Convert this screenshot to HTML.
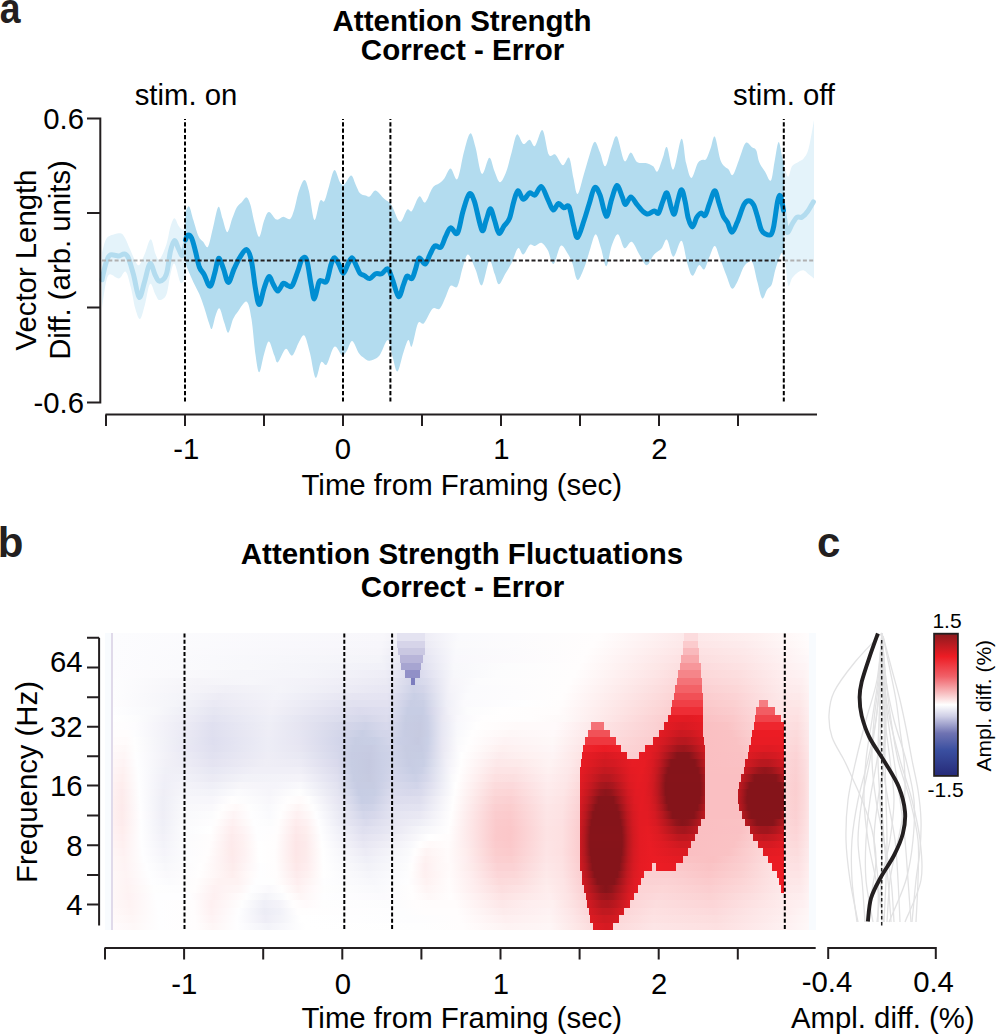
<!DOCTYPE html><html><head><meta charset="utf-8"><style>html,body{margin:0;padding:0;background:#fff;}svg{display:block;}text{font-family:"Liberation Sans", sans-serif;fill:#000;}</style></head><body>
<svg width="996" height="1035" viewBox="0 0 996 1035">
<path d="M102.0 252.8C102.6 250.8 104.2 243.4 105.4 240.6C106.7 237.8 107.0 237.1 109.5 235.9C112.0 234.7 117.7 232.9 120.3 233.2C122.9 233.5 123.4 235.3 125.0 237.9C126.6 240.5 128.1 244.9 129.8 248.7C131.5 252.5 133.6 258.2 135.2 260.9C136.8 263.6 137.6 266.1 139.2 265.0C140.8 263.9 142.8 258.3 144.7 254.0C146.6 249.7 148.9 239.2 150.7 239.2C152.5 239.2 154.0 250.6 155.5 254.0C157.0 257.4 157.7 261.1 159.5 259.5C161.3 257.9 164.5 250.1 166.3 244.7C168.1 239.3 169.1 231.4 170.4 227.0C171.8 222.6 173.1 218.5 174.4 218.3C175.8 218.1 177.2 223.8 178.5 225.7C179.8 227.6 181.4 229.6 182.5 229.8C183.6 230.0 184.8 227.5 185.3 227.0L185.3 277.1C184.8 278.0 183.4 281.8 182.5 282.5C181.6 283.2 181.2 284.3 179.8 281.2C178.5 278.1 176.0 264.7 174.4 263.6C172.8 262.5 171.8 269.2 170.4 274.4C169.1 279.6 168.1 290.4 166.3 294.7C164.5 299.0 161.3 300.1 159.5 300.1C157.7 300.1 157.1 297.4 155.5 294.7C153.9 292.0 151.8 282.1 150.0 283.9C148.2 285.7 146.4 299.6 144.7 305.5C143.0 311.4 141.6 318.5 140.0 319.0C138.4 319.5 136.7 313.5 135.2 308.3C133.7 303.1 132.6 294.1 131.0 288.0C129.4 281.9 127.7 273.3 125.7 271.7C123.7 270.1 121.7 278.1 119.0 278.5C116.3 278.9 111.8 273.3 109.5 274.4C107.2 275.5 106.7 279.5 105.4 285.2C104.2 290.9 102.6 304.4 102.0 308.3Z" fill="#e4f3fa"/>
<path d="M784.0 165.0C784.2 165.8 784.7 168.0 785.4 169.9C786.1 171.8 787.2 177.3 788.3 176.7C789.4 176.0 790.6 168.4 792.2 166.0C793.8 163.6 796.1 163.5 798.0 162.2C799.9 160.9 802.0 160.6 803.8 158.3C805.6 156.0 807.0 154.4 808.6 148.6C810.2 142.8 812.5 128.3 813.4 123.5C814.3 118.7 813.9 120.6 814.0 120.0L814.0 279.0C813.9 278.9 814.3 278.9 813.4 278.1C812.5 277.3 810.2 275.6 808.6 274.3C807.0 273.0 805.6 270.7 803.8 270.4C802.0 270.1 799.9 271.0 798.0 272.3C796.1 273.6 793.8 275.9 792.2 278.1C790.6 280.4 789.4 288.1 788.3 285.8C787.2 283.6 786.1 269.2 785.4 264.6C784.7 260.0 784.2 259.1 784.0 258.0Z" fill="#e4f3fa"/>
<path d="M185.3 213.5C185.6 212.8 186.1 210.1 186.8 209.0C187.5 207.9 188.4 205.1 189.5 207.0C190.6 208.9 192.0 215.8 193.5 220.6C195.0 225.4 196.8 232.5 198.4 236.0C200.0 239.5 201.6 240.0 203.2 241.8C204.8 243.6 206.4 248.9 208.0 246.7C209.6 244.4 211.2 234.9 212.9 228.3C214.6 221.7 216.7 208.6 218.3 207.0C219.9 205.4 221.0 214.4 222.5 218.6C224.0 222.8 225.7 232.2 227.3 232.2C228.9 232.2 230.6 222.8 232.2 218.6C233.8 214.4 235.4 209.7 237.0 207.0C238.6 204.3 240.2 203.8 241.8 202.2C243.4 200.6 245.2 196.9 246.7 197.4C248.1 197.9 249.2 200.9 250.5 205.1C251.8 209.3 253.0 217.2 254.4 222.5C255.8 227.8 257.6 237.3 259.2 237.0C260.8 236.7 262.5 224.8 264.1 220.6C265.7 216.4 266.8 212.1 268.9 211.9C271.0 211.7 274.2 218.8 276.6 219.6C279.0 220.4 281.1 216.8 283.3 216.7C285.5 216.6 288.1 220.2 290.0 218.9C291.9 217.6 292.9 213.5 294.4 208.9C295.9 204.3 297.2 195.9 298.9 191.1C300.6 186.3 302.7 180.0 304.4 180.0C306.1 180.0 307.2 184.4 308.9 191.1C310.6 197.8 312.5 218.3 314.4 220.0C316.2 221.7 318.3 204.2 320.0 201.1C321.7 197.9 322.9 203.5 324.4 201.1C325.9 198.7 327.2 191.9 328.9 186.7C330.6 181.5 332.5 170.8 334.4 170.0C336.2 169.2 338.3 179.8 340.0 182.2C341.7 184.6 342.5 185.5 344.4 184.4C346.2 183.3 349.2 175.6 351.1 175.6C353.0 175.6 354.1 181.4 355.6 184.4C357.1 187.4 358.3 191.4 360.0 193.3C361.7 195.2 364.0 195.1 365.6 195.6C367.2 196.1 368.0 197.3 369.7 196.4C371.4 195.5 373.3 190.0 375.7 190.4C378.1 190.8 381.6 196.4 384.2 198.8C386.8 201.2 388.8 201.1 391.4 204.9C394.0 208.7 397.3 221.0 399.9 221.8C402.5 222.6 405.1 211.5 407.1 209.7C409.1 207.9 409.9 213.1 411.9 210.9C413.9 208.7 417.0 197.8 419.2 196.4C421.4 195.0 423.0 203.9 425.2 202.5C427.4 201.1 430.1 191.2 432.5 188.0C434.9 184.8 437.7 184.7 439.7 183.1C441.7 181.5 442.7 180.7 444.5 178.3C446.3 175.9 448.5 168.5 450.6 168.6C452.8 168.7 455.2 181.8 457.4 179.1C459.6 176.4 461.7 160.1 463.8 152.5C465.9 144.9 468.2 134.3 470.2 133.4C472.1 132.5 473.6 140.5 475.5 147.2C477.4 153.9 479.6 172.0 481.9 173.8C484.2 175.6 487.2 158.2 489.3 157.8C491.4 157.4 492.8 167.5 494.6 171.6C496.4 175.7 498.1 182.3 500.0 182.3C501.9 182.3 504.4 176.6 506.3 171.6C508.2 166.6 509.8 158.7 511.6 152.5C513.4 146.3 515.0 135.8 516.9 134.4C518.8 133.0 521.2 143.1 523.3 144.0C525.4 144.9 527.8 139.5 529.7 139.8C531.7 140.2 532.9 147.7 535.0 146.1C537.1 144.5 540.2 128.8 542.5 130.2C544.8 131.6 546.7 150.5 548.8 154.6C550.9 158.7 553.0 152.8 555.3 154.6C557.6 156.4 560.5 164.8 562.8 165.3C565.1 165.8 567.3 155.7 569.1 157.8C570.9 159.9 572.0 172.0 573.4 178.0C574.8 184.0 575.8 194.7 577.6 194.0C579.4 193.3 582.0 180.2 584.0 173.8C586.0 167.4 587.5 161.0 589.3 155.7C591.1 150.4 592.8 142.4 594.6 141.9C596.4 141.4 598.2 148.4 600.0 152.5C601.8 156.6 603.4 167.2 605.3 166.3C607.2 165.4 609.7 152.1 611.6 147.2C613.5 142.2 614.8 134.3 616.9 136.6C619.0 138.9 622.1 158.3 624.4 161.0C626.7 163.7 628.7 152.3 630.8 152.5C632.9 152.7 634.6 160.3 637.1 162.1C639.6 163.9 642.9 162.4 645.6 163.1C648.3 163.8 651.1 164.9 653.1 166.3C655.1 167.7 655.8 173.0 657.4 171.6C659.0 170.2 661.2 161.9 662.8 157.8C664.4 153.7 665.2 145.2 667.0 147.2C668.8 149.1 671.0 170.9 673.4 169.5C675.8 168.1 679.4 139.8 681.5 138.7C683.6 137.6 684.5 156.5 686.1 163.1C687.8 169.7 689.5 178.0 691.4 178.0C693.3 178.0 696.0 166.1 697.8 163.1C699.6 160.1 700.7 160.7 702.1 160.0C703.5 159.3 704.9 160.8 706.3 158.9C707.7 157.0 709.2 152.0 710.6 148.3C712.0 144.6 713.2 134.8 714.8 136.6C716.4 138.4 718.5 153.9 720.1 158.9C721.7 163.9 723.0 164.5 724.4 166.3C725.8 168.1 727.2 168.1 728.6 169.5C730.0 170.9 731.1 176.6 732.9 174.8C734.7 173.0 737.2 164.2 739.3 158.9C741.4 153.6 743.5 144.9 745.6 142.9C747.7 140.9 750.2 145.9 752.0 147.2C753.8 148.4 755.1 147.9 756.3 150.4C757.5 152.9 757.8 158.6 759.3 162.2C760.8 165.8 763.2 168.8 765.1 171.8C767.0 174.9 769.3 182.4 770.9 180.5C772.5 178.6 773.5 166.6 774.8 160.2C776.1 153.8 777.4 142.5 778.6 141.9C779.8 141.3 781.2 152.6 782.1 156.4C783.0 160.2 783.7 163.6 784.0 165.0L784.0 258.0C783.6 257.2 782.9 251.2 781.5 253.0C780.1 254.8 777.3 263.4 775.7 268.5C774.1 273.6 773.3 280.4 771.9 283.9C770.5 287.4 768.7 287.3 767.1 289.7C765.5 292.1 763.8 299.7 762.2 298.4C760.6 297.1 759.0 287.9 757.4 282.0C755.8 276.1 754.2 265.9 752.6 262.7C751.0 259.5 749.2 261.9 747.7 262.7C746.2 263.5 745.3 264.1 743.5 267.3C741.7 270.6 739.1 278.7 737.1 282.2C735.1 285.7 733.6 289.6 731.8 288.5C730.0 287.4 728.5 280.8 726.5 275.8C724.5 270.9 722.1 263.8 720.1 258.8C718.1 253.8 716.6 246.3 714.8 246.0C713.0 245.7 711.3 252.8 709.5 256.7C707.7 260.6 706.0 268.0 704.2 269.4C702.4 270.8 700.9 264.1 698.9 265.2C696.9 266.3 694.5 276.2 692.5 275.8C690.5 275.4 689.0 268.9 687.2 263.0C685.4 257.1 683.8 241.8 681.5 240.7C679.2 239.6 675.8 256.9 673.4 256.7C671.0 256.5 669.0 241.1 667.0 239.7C665.0 238.3 663.9 245.7 661.7 248.2C659.6 250.7 656.6 251.7 654.1 254.5C651.6 257.3 649.2 265.2 646.7 265.2C644.2 265.2 641.8 258.4 639.3 254.5C636.8 250.6 634.3 242.9 631.8 241.8C629.3 240.8 626.7 249.4 624.4 248.2C622.1 246.9 620.1 234.7 618.0 234.3C615.9 233.9 613.6 240.7 611.6 246.0C609.6 251.3 608.1 265.8 606.3 266.2C604.5 266.6 602.8 253.5 601.0 248.2C599.2 242.9 597.5 234.3 595.7 234.3C593.9 234.3 592.2 243.0 590.4 248.2C588.6 253.3 587.2 259.9 585.1 265.2C583.0 270.5 579.7 280.4 577.6 280.0C575.5 279.6 574.1 267.6 572.3 263.0C570.5 258.4 569.0 255.2 567.0 252.4C565.0 249.6 562.9 244.1 560.6 246.0C558.4 247.9 555.6 263.3 553.5 264.0C551.4 264.7 549.8 253.8 547.8 250.3C545.8 246.8 543.5 243.5 541.4 242.8C539.3 242.1 537.0 245.6 535.0 246.0C533.0 246.4 531.7 243.6 529.7 245.0C527.8 246.4 525.2 254.0 523.3 254.5C521.3 255.0 520.0 246.8 518.0 248.2C516.0 249.6 513.7 258.8 511.6 263.0C509.5 267.2 507.4 270.1 505.3 273.7C503.2 277.2 500.7 284.3 498.9 284.3C497.1 284.3 496.2 277.6 494.6 273.7C493.0 269.8 491.4 259.0 489.3 260.9C487.2 262.8 484.2 283.9 481.9 285.3C479.6 286.7 477.8 274.5 475.5 269.4C473.2 264.3 470.2 254.8 468.1 254.5C466.0 254.2 464.6 262.0 462.8 267.3C461.0 272.6 459.4 283.3 457.4 286.4C455.4 289.5 452.6 284.1 450.6 285.8C448.7 287.5 447.5 292.9 445.7 296.7C443.9 300.5 441.9 306.7 439.7 308.7C437.5 310.7 435.1 306.3 432.5 308.7C429.9 311.1 426.4 320.8 424.0 323.2C421.6 325.6 420.0 319.4 418.0 323.2C416.0 327.0 413.5 343.4 411.9 346.2C410.3 349.0 409.7 339.1 408.3 340.1C406.9 341.1 405.3 347.0 403.5 352.2C401.7 357.4 399.2 370.7 397.4 371.5C395.6 372.3 394.2 362.3 392.6 357.1C391.0 351.9 390.0 340.3 387.8 340.1C385.6 339.9 382.3 352.4 379.3 355.8C376.3 359.2 372.2 360.3 369.7 360.7C367.1 361.1 365.8 359.2 364.0 358.0C362.2 356.8 360.9 356.1 358.9 353.3C356.9 350.5 354.2 341.5 352.2 341.1C350.2 340.7 348.4 348.7 346.7 351.1C345.0 353.5 344.2 356.3 342.2 355.6C340.1 354.9 337.0 345.2 334.4 346.7C331.8 348.2 328.9 361.8 326.7 364.4C324.5 367.0 323.0 360.0 321.1 362.2C319.2 364.4 317.5 379.3 315.6 377.8C313.8 376.3 311.9 360.3 310.0 353.3C308.1 346.3 306.2 337.5 304.4 335.6C302.5 333.8 300.9 338.9 298.9 342.2C296.9 345.5 294.4 354.5 292.2 355.6C290.0 356.7 288.0 347.8 285.6 348.9C283.2 350.0 279.7 361.1 277.8 362.2C275.9 363.3 275.9 359.1 274.4 355.6C272.9 352.1 270.6 341.7 268.9 341.4C267.2 341.1 265.7 348.8 264.1 353.9C262.5 359.0 260.6 372.3 259.2 372.3C257.8 372.3 256.7 362.8 255.4 353.9C254.1 345.0 252.9 327.8 251.5 319.1C250.1 310.4 248.9 303.0 246.7 301.7C244.4 300.4 240.3 308.5 238.0 311.4C235.7 314.3 234.7 315.6 233.1 319.1C231.5 322.7 229.8 332.1 228.3 332.7C226.9 333.3 225.9 327.0 224.4 323.0C222.9 319.0 221.1 309.8 219.6 308.5C218.1 307.2 217.0 311.9 215.7 315.3C214.4 318.7 213.0 327.5 211.9 328.8C210.8 330.1 210.3 326.6 209.0 323.0C207.7 319.4 205.8 312.3 204.2 307.5C202.6 302.7 201.1 298.2 199.3 294.0C197.5 289.8 195.6 286.9 193.5 282.4C191.4 277.9 188.2 270.6 186.8 267.0C185.4 263.4 185.6 262.0 185.3 261.0Z" fill="#b3dcef"/>
<path d="M102.0 279.8C102.6 277.3 104.2 269.1 105.4 265.0C106.7 260.9 107.7 257.1 109.5 255.5C111.3 253.9 114.6 255.4 116.2 255.5C117.8 255.6 117.6 256.2 119.0 256.0C120.4 255.8 122.8 253.7 124.4 254.0C126.0 254.3 126.8 254.4 128.4 258.0C130.0 261.6 132.0 269.2 133.8 275.8C135.6 282.4 137.4 296.5 139.2 297.4C141.0 298.3 142.9 286.8 144.7 281.2C146.5 275.6 148.2 264.5 150.0 263.6C151.8 262.7 153.9 272.9 155.5 275.8C157.1 278.7 157.7 281.4 159.5 281.2C161.3 281.0 164.5 279.4 166.3 274.4C168.1 269.4 169.1 257.0 170.4 251.4C171.8 245.8 173.1 241.1 174.4 240.6C175.8 240.1 177.2 246.2 178.5 248.7C179.8 251.2 181.4 256.2 182.5 255.5C183.6 254.8 184.8 246.5 185.3 244.7" fill="none" stroke="#b3dcef" stroke-width="5" stroke-linejoin="round" stroke-linecap="round"/>
<path d="M783.5 210.5C784.0 213.7 785.6 226.3 786.4 229.8C787.2 233.3 787.3 232.7 788.3 231.7C789.3 230.7 790.8 226.4 792.2 224.0C793.7 221.6 795.4 218.3 797.0 217.2C798.6 216.1 800.0 218.2 801.8 217.2C803.6 216.2 805.7 214.0 807.6 211.4C809.5 208.8 812.4 203.4 813.4 201.8" fill="none" stroke="#b3dcef" stroke-width="5" stroke-linejoin="round" stroke-linecap="round"/>
<path d="M185.5 240.0C185.9 239.2 186.7 235.4 187.7 235.1C188.7 234.8 190.3 235.3 191.6 238.0C192.9 240.7 194.2 246.7 195.5 251.5C196.8 256.3 197.9 263.1 199.3 267.0C200.8 270.9 202.4 271.5 204.2 274.7C206.0 277.9 208.2 286.6 210.0 286.3C211.8 286.0 213.4 277.5 214.8 272.8C216.2 268.1 217.2 259.0 218.6 258.3C220.0 257.6 221.9 264.9 223.5 268.9C225.1 272.9 226.5 282.4 228.3 282.4C230.1 282.4 232.2 273.1 234.1 268.9C236.0 264.7 237.8 260.5 239.9 257.3C242.0 254.1 244.8 248.9 246.7 249.6C248.6 250.2 250.1 254.8 251.5 261.2C252.9 267.6 254.1 281.0 255.4 288.2C256.7 295.4 257.8 304.6 259.2 304.6C260.6 304.6 262.5 292.9 264.1 288.2C265.7 283.5 267.4 277.2 268.9 276.6C270.4 276.0 271.8 282.0 273.3 284.4C274.8 286.8 276.1 291.3 277.8 291.1C279.5 290.9 281.6 284.2 283.3 283.3C285.0 282.4 286.3 285.2 287.8 285.6C289.3 286.0 290.5 288.0 292.2 285.6C293.9 283.2 296.1 275.6 297.8 271.1C299.5 266.7 300.7 260.8 302.2 258.9C303.7 257.0 305.2 255.8 306.7 260.0C308.2 264.2 309.8 277.9 311.1 284.4C312.4 290.9 313.1 299.3 314.4 298.9C315.7 298.5 317.6 285.2 318.9 282.2C320.2 279.2 320.9 281.3 322.2 281.1C323.5 280.9 325.2 283.9 326.7 281.1C328.2 278.3 329.8 268.3 331.1 264.4C332.4 260.5 333.1 257.8 334.4 257.8C335.7 257.8 337.4 261.8 338.9 264.4C340.4 267.0 341.8 273.3 343.3 273.3C344.8 273.3 346.3 267.0 347.8 264.4C349.3 261.8 350.7 257.4 352.2 257.8C353.7 258.2 355.4 264.1 356.7 266.7C358.0 269.3 358.7 271.8 360.0 273.3C361.3 274.8 362.8 274.7 364.4 275.6C366.0 276.5 367.8 278.9 369.7 278.6C371.6 278.3 373.7 274.5 375.7 273.7C377.7 272.9 379.7 274.5 381.7 273.7C383.7 272.9 386.0 267.9 387.8 268.9C389.6 269.9 390.8 275.2 392.6 279.8C394.4 284.4 396.8 295.9 398.6 296.7C400.4 297.5 402.1 288.0 403.5 284.6C404.9 281.2 405.7 277.1 407.1 276.1C408.5 275.1 410.5 279.8 411.9 278.6C413.3 277.4 414.4 272.3 415.6 268.9C416.8 265.5 417.6 258.8 419.2 258.0C420.8 257.2 423.4 264.7 425.2 264.1C427.0 263.5 428.4 257.4 430.0 254.4C431.6 251.4 433.1 247.1 434.9 245.9C436.7 244.7 439.1 248.7 440.9 247.1C442.7 245.5 444.1 239.5 445.7 236.3C447.3 233.1 448.7 228.3 450.6 227.8C452.6 227.3 455.4 235.9 457.4 233.3C459.4 230.7 460.9 218.6 462.8 212.0C464.8 205.4 467.2 195.8 469.1 194.0C471.0 192.2 472.3 195.4 474.4 201.4C476.5 207.4 479.9 226.9 481.9 230.1C483.8 233.3 484.7 224.1 486.1 220.5C487.5 216.9 489.0 208.8 490.4 208.8C491.8 208.8 493.2 216.4 494.6 220.5C496.0 224.6 497.3 232.4 498.9 233.3C500.5 234.2 502.4 228.3 504.2 225.8C506.0 223.3 507.9 222.5 509.5 218.4C511.1 214.3 512.4 206.0 513.8 201.4C515.2 196.8 516.4 191.2 518.0 190.8C519.6 190.5 521.3 199.0 523.3 199.3C525.2 199.7 527.8 193.6 529.7 192.9C531.7 192.2 533.0 196.1 535.0 195.0C537.0 193.9 539.3 185.8 541.4 186.5C543.5 187.2 545.8 195.4 547.8 199.3C549.8 203.2 551.3 209.2 553.1 209.9C554.9 210.6 556.7 203.8 558.5 203.5C560.3 203.2 562.0 207.3 563.8 207.8C565.6 208.3 567.5 203.9 569.1 206.7C570.7 209.5 572.0 219.7 573.4 224.8C574.8 229.9 575.8 238.2 577.6 237.5C579.4 236.8 582.0 226.2 584.0 220.5C586.0 214.8 587.5 209.0 589.3 203.5C591.1 198.0 592.8 189.0 594.6 187.6C596.4 186.2 598.0 190.2 600.0 195.0C602.0 199.8 604.4 215.6 606.3 216.3C608.2 217.0 609.8 204.4 611.6 199.3C613.4 194.2 615.1 185.9 616.9 185.5C618.7 185.1 620.9 193.9 622.3 197.1C623.7 200.3 624.1 204.6 625.5 204.6C626.9 204.6 628.9 197.1 630.8 197.1C632.7 197.1 635.1 202.3 637.1 204.6C639.1 206.9 640.7 209.4 642.5 211.0C644.3 212.6 645.8 214.1 647.8 214.1C649.8 214.1 652.5 211.2 654.3 211.0C656.1 210.8 657.1 214.7 658.5 213.1C659.9 211.5 661.4 204.8 662.8 201.4C664.2 198.0 665.6 191.8 667.0 192.9C668.4 194.0 670.1 204.3 671.3 207.8C672.5 211.3 673.3 215.2 674.4 214.1C675.5 213.0 676.4 205.5 677.6 201.4C678.8 197.3 680.2 189.7 681.5 189.7C682.8 189.7 684.0 196.6 685.1 201.4C686.2 206.2 687.1 214.2 688.3 218.4C689.5 222.7 691.1 227.1 692.5 226.9C693.9 226.7 695.4 219.6 696.8 217.3C698.2 215.0 699.6 213.4 701.0 213.1C702.4 212.8 703.9 216.8 705.3 215.2C706.7 213.6 707.9 207.6 709.5 203.5C711.1 199.4 713.2 190.8 714.8 190.8C716.4 190.8 717.7 199.2 719.1 203.5C720.5 207.8 721.9 213.1 723.3 216.3C724.7 219.5 726.2 219.9 727.6 222.6C729.0 225.2 730.2 232.2 731.8 232.2C733.4 232.2 735.1 227.2 737.1 222.6C739.1 218.0 742.0 208.3 743.9 204.7C745.8 201.1 747.1 200.8 748.7 200.8C750.3 200.8 752.0 202.1 753.5 204.7C755.0 207.3 756.1 212.1 757.4 216.3C758.7 220.5 760.0 226.9 761.3 229.8C762.6 232.7 763.5 232.9 765.1 233.7C766.7 234.5 769.5 235.9 770.9 234.6C772.3 233.3 772.7 231.5 773.8 225.9C774.9 220.3 776.6 205.8 777.7 200.8C778.8 195.8 779.6 194.4 780.6 196.0C781.6 197.6 783.0 208.1 783.5 210.5" fill="none" stroke="#008ed2" stroke-width="5" stroke-linejoin="round" stroke-linecap="round"/>
<path d="M102 260.5H185M784 260.5H814" stroke="#b0b0b0" stroke-width="1.8" stroke-dasharray="4 2.3"/>
<path d="M185 260.5H784" stroke="#231f20" stroke-width="1.8" stroke-dasharray="4 2.3"/>
<path d="M185.0 119V402" stroke="#000" stroke-width="2" stroke-dasharray="4.2 2.2" stroke-dashoffset="3.2"/>
<path d="M343.0 119V402" stroke="#000" stroke-width="2" stroke-dasharray="4.2 2.2" stroke-dashoffset="3.2"/>
<path d="M390.4 119V402" stroke="#000" stroke-width="2" stroke-dasharray="4.2 2.2" stroke-dashoffset="3.2"/>
<path d="M783.8 119V402" stroke="#000" stroke-width="2" stroke-dasharray="4.2 2.2" stroke-dashoffset="3.2"/>
<path d="M87 118.4H100.3V402.5H87M87 213H100.3M87 307.5H100.3" fill="none" stroke="#231f20" stroke-width="2"/>
<path d="M105.5 414.5H817M106.0 414.5V426M185.0 414.5V426M264.0 414.5V426M343.0 414.5V426M422.0 414.5V426M501.0 414.5V426M580.0 414.5V426M659.0 414.5V426M738.0 414.5V426" fill="none" stroke="#231f20" stroke-width="2"/>
<text transform="translate(-0.3 23.3) scale(0.89 1.02)" font-size="42" font-weight="bold" style="fill:#231f20">a</text>
<text x="462" y="30.6" font-size="29.5" font-weight="bold" text-anchor="middle">Attention Strength</text>
<text x="462.5" y="59.7" font-size="29.5" font-weight="bold" text-anchor="middle">Correct - Error</text>
<text x="186" y="104.8" font-size="29.3" text-anchor="middle">stim. on</text>
<text x="784" y="104.8" font-size="29.3" text-anchor="middle">stim. off</text>
<text x="84" y="128.7" font-size="29.3" text-anchor="end">0.6</text>
<text x="84" y="412.5" font-size="29.3" text-anchor="end">-0.6</text>
<text x="186.2" y="459" font-size="29.3" text-anchor="middle">-1</text>
<text x="342.8" y="459" font-size="29.3" text-anchor="middle">0</text>
<text x="501.5" y="459" font-size="29.3" text-anchor="middle">1</text>
<text x="659.5" y="459" font-size="29.3" text-anchor="middle">2</text>
<text x="461.8" y="494.8" font-size="29.4" text-anchor="middle">Time from Framing (sec)</text>
<text transform="translate(36.2 260) rotate(-90)" font-size="29.3" text-anchor="middle">Vector Length</text>
<text transform="translate(70 260) rotate(-90)" font-size="29.3" text-anchor="middle">Diff. (arb. units)</text>
<defs><linearGradient id="h0"><stop offset="0.0000" stop-color="#f8fbfe"/><stop offset="0.0084" stop-color="#f8fbfe"/><stop offset="0.0091" stop-color="#e0daea"/><stop offset="0.0106" stop-color="#e0daea"/><stop offset="0.0113" stop-color="#fcfcfe"/><stop offset="0.3912" stop-color="#f8f7fb"/><stop offset="0.4106" stop-color="#f3f2f8"/><stop offset="0.4106" stop-color="#e4e3f1"/><stop offset="0.4500" stop-color="#e4e3f1"/><stop offset="0.4500" stop-color="#eeedf6"/><stop offset="0.4989" stop-color="#fafafd"/><stop offset="0.6938" stop-color="#fffdfd"/><stop offset="0.8152" stop-color="#fdeaeb"/><stop offset="0.8152" stop-color="#fcdcde"/><stop offset="0.8349" stop-color="#fcdcde"/><stop offset="0.8349" stop-color="#fde9ea"/><stop offset="0.9049" stop-color="#feefef"/><stop offset="0.9900" stop-color="#fffcfc"/><stop offset="0.9907" stop-color="#f8fbfe"/><stop offset="0.9999" stop-color="#f8fbfe"/></linearGradient><linearGradient id="h1"><stop offset="0.0000" stop-color="#f8fbfe"/><stop offset="0.0084" stop-color="#f8fbfe"/><stop offset="0.0091" stop-color="#e0daea"/><stop offset="0.0106" stop-color="#e0daea"/><stop offset="0.0113" stop-color="#fcfcfe"/><stop offset="0.3891" stop-color="#f7f6fb"/><stop offset="0.4106" stop-color="#f0f0f7"/><stop offset="0.4106" stop-color="#d6d4e9"/><stop offset="0.4500" stop-color="#d6d4e9"/><stop offset="0.4500" stop-color="#ebeaf4"/><stop offset="0.4954" stop-color="#fafafc"/><stop offset="0.6860" stop-color="#fffdfd"/><stop offset="0.8130" stop-color="#fde8e9"/><stop offset="0.8130" stop-color="#fbcbcd"/><stop offset="0.8349" stop-color="#fbcbcd"/><stop offset="0.8349" stop-color="#fde6e7"/><stop offset="0.8999" stop-color="#fdebec"/><stop offset="0.9900" stop-color="#fffbfb"/><stop offset="0.9907" stop-color="#f8fbfe"/><stop offset="0.9999" stop-color="#f8fbfe"/></linearGradient><linearGradient id="h2"><stop offset="0.0000" stop-color="#f8fbfe"/><stop offset="0.0084" stop-color="#f8fbfe"/><stop offset="0.0091" stop-color="#e0daea"/><stop offset="0.0106" stop-color="#e0daea"/><stop offset="0.0113" stop-color="#fcfcfe"/><stop offset="0.3884" stop-color="#f6f5fa"/><stop offset="0.4127" stop-color="#edecf5"/><stop offset="0.4127" stop-color="#cac8e2"/><stop offset="0.4500" stop-color="#cac8e2"/><stop offset="0.4500" stop-color="#e8e7f3"/><stop offset="0.4939" stop-color="#f9f9fc"/><stop offset="0.6783" stop-color="#fffdfd"/><stop offset="0.8130" stop-color="#fde5e6"/><stop offset="0.8130" stop-color="#f9b9bc"/><stop offset="0.8363" stop-color="#f9b9bc"/><stop offset="0.8363" stop-color="#fde2e3"/><stop offset="0.8978" stop-color="#fde8e9"/><stop offset="0.9640" stop-color="#fef4f5"/><stop offset="0.9900" stop-color="#fffafa"/><stop offset="0.9907" stop-color="#f8fbfe"/><stop offset="0.9999" stop-color="#f8fbfe"/></linearGradient><linearGradient id="h3"><stop offset="0.0000" stop-color="#f8fbfe"/><stop offset="0.0084" stop-color="#f8fbfe"/><stop offset="0.0091" stop-color="#e0daea"/><stop offset="0.0106" stop-color="#e0daea"/><stop offset="0.0113" stop-color="#fcfcfe"/><stop offset="0.3870" stop-color="#f4f4f9"/><stop offset="0.4148" stop-color="#e9e9f4"/><stop offset="0.4148" stop-color="#b8b5d9"/><stop offset="0.4472" stop-color="#b8b5d9"/><stop offset="0.4472" stop-color="#e3e3f1"/><stop offset="0.4925" stop-color="#f9f8fc"/><stop offset="0.6720" stop-color="#fffdfd"/><stop offset="0.7909" stop-color="#fde6e7"/><stop offset="0.8109" stop-color="#fde2e3"/><stop offset="0.8109" stop-color="#f8a8ab"/><stop offset="0.8363" stop-color="#f8a8ab"/><stop offset="0.8363" stop-color="#fcdfe0"/><stop offset="0.8943" stop-color="#fde5e6"/><stop offset="0.9605" stop-color="#fef2f3"/><stop offset="0.9900" stop-color="#fef8f9"/><stop offset="0.9907" stop-color="#f8fbfe"/><stop offset="0.9999" stop-color="#f8fbfe"/></linearGradient><linearGradient id="h4"><stop offset="0.0000" stop-color="#f8fbfe"/><stop offset="0.0084" stop-color="#f8fbfe"/><stop offset="0.0091" stop-color="#e0daea"/><stop offset="0.0106" stop-color="#e0daea"/><stop offset="0.0113" stop-color="#fcfcfe"/><stop offset="0.2019" stop-color="#f8f8fb"/><stop offset="0.3926" stop-color="#f1f1f8"/><stop offset="0.4169" stop-color="#e5e5f2"/><stop offset="0.4169" stop-color="#a7a5d1"/><stop offset="0.4450" stop-color="#a7a5d1"/><stop offset="0.4450" stop-color="#dfdfef"/><stop offset="0.4911" stop-color="#f8f8fb"/><stop offset="0.5657" stop-color="#fcfcfd"/><stop offset="0.6663" stop-color="#fffdfd"/><stop offset="0.7810" stop-color="#fde6e6"/><stop offset="0.8088" stop-color="#fcdfe0"/><stop offset="0.8088" stop-color="#f7969a"/><stop offset="0.8391" stop-color="#f7969a"/><stop offset="0.8391" stop-color="#fcdbdd"/><stop offset="0.8943" stop-color="#fde2e3"/><stop offset="0.9576" stop-color="#fef0f1"/><stop offset="0.9858" stop-color="#fef5f6"/><stop offset="0.9900" stop-color="#fef7f8"/><stop offset="0.9907" stop-color="#f8fbfe"/><stop offset="0.9999" stop-color="#f8fbfe"/></linearGradient><linearGradient id="h5"><stop offset="0.0000" stop-color="#f8fbfe"/><stop offset="0.0084" stop-color="#f8fbfe"/><stop offset="0.0091" stop-color="#e0daea"/><stop offset="0.0106" stop-color="#e0daea"/><stop offset="0.0113" stop-color="#fdfcfe"/><stop offset="0.1844" stop-color="#f6f6fa"/><stop offset="0.2815" stop-color="#f5f5fa"/><stop offset="0.3947" stop-color="#eeedf6"/><stop offset="0.4218" stop-color="#dfdfef"/><stop offset="0.4218" stop-color="#9190c7"/><stop offset="0.4429" stop-color="#9190c7"/><stop offset="0.4429" stop-color="#dadaed"/><stop offset="0.4911" stop-color="#f7f7fb"/><stop offset="0.5509" stop-color="#fcfcfd"/><stop offset="0.6607" stop-color="#fffdfd"/><stop offset="0.7775" stop-color="#fde4e5"/><stop offset="0.8067" stop-color="#fcdcdd"/><stop offset="0.8067" stop-color="#f58589"/><stop offset="0.8391" stop-color="#f58589"/><stop offset="0.8391" stop-color="#fcd8d9"/><stop offset="0.8915" stop-color="#fcdedf"/><stop offset="0.9555" stop-color="#feeeef"/><stop offset="0.9823" stop-color="#fef2f3"/><stop offset="0.9900" stop-color="#fef6f6"/><stop offset="0.9907" stop-color="#f8fbfe"/><stop offset="0.9999" stop-color="#f8fbfe"/></linearGradient><linearGradient id="h6"><stop offset="0.0000" stop-color="#f8fbfe"/><stop offset="0.0084" stop-color="#f8fbfe"/><stop offset="0.0091" stop-color="#e0daea"/><stop offset="0.0106" stop-color="#e0daea"/><stop offset="0.0113" stop-color="#fdfdfe"/><stop offset="0.1309" stop-color="#f5f4f9"/><stop offset="0.2069" stop-color="#f6f6fa"/><stop offset="0.2927" stop-color="#f2f1f8"/><stop offset="0.3954" stop-color="#ebeaf4"/><stop offset="0.4303" stop-color="#d5d7ea"/><stop offset="0.4303" stop-color="#7c7dbe"/><stop offset="0.4366" stop-color="#7c7dbe"/><stop offset="0.4366" stop-color="#d3d6ea"/><stop offset="0.4531" stop-color="#dbdced"/><stop offset="0.4876" stop-color="#f6f5fa"/><stop offset="0.5263" stop-color="#fcfcfd"/><stop offset="0.6551" stop-color="#fffdfd"/><stop offset="0.7768" stop-color="#fde1e2"/><stop offset="0.8046" stop-color="#fcd9db"/><stop offset="0.8046" stop-color="#f47378"/><stop offset="0.8405" stop-color="#f47378"/><stop offset="0.8405" stop-color="#fcd4d6"/><stop offset="0.8908" stop-color="#fcdbdc"/><stop offset="0.9541" stop-color="#feeced"/><stop offset="0.9802" stop-color="#feeff0"/><stop offset="0.9900" stop-color="#fef5f5"/><stop offset="0.9907" stop-color="#f8fbfe"/><stop offset="0.9999" stop-color="#f8fbfe"/></linearGradient><linearGradient id="h7"><stop offset="0.0000" stop-color="#f8fbfe"/><stop offset="0.0084" stop-color="#f8fbfe"/><stop offset="0.0091" stop-color="#e0daea"/><stop offset="0.0106" stop-color="#e0daea"/><stop offset="0.0113" stop-color="#fdfdfe"/><stop offset="0.1154" stop-color="#f5f4f9"/><stop offset="0.1696" stop-color="#f1f0f7"/><stop offset="0.2463" stop-color="#f4f4f9"/><stop offset="0.3666" stop-color="#eae9f4"/><stop offset="0.3976" stop-color="#e8e7f3"/><stop offset="0.4341" stop-color="#ced2e7"/><stop offset="0.4482" stop-color="#d3d5e9"/><stop offset="0.4848" stop-color="#f4f3f9"/><stop offset="0.5151" stop-color="#fbfbfd"/><stop offset="0.6487" stop-color="#fffdfd"/><stop offset="0.7768" stop-color="#fcdedf"/><stop offset="0.8025" stop-color="#fcd7d8"/><stop offset="0.8025" stop-color="#f36267"/><stop offset="0.8405" stop-color="#f36267"/><stop offset="0.8405" stop-color="#fbd0d2"/><stop offset="0.8887" stop-color="#fcd7d8"/><stop offset="0.9520" stop-color="#fdeaeb"/><stop offset="0.9780" stop-color="#fdeced"/><stop offset="0.9900" stop-color="#fef3f3"/><stop offset="0.9907" stop-color="#f8fbfe"/><stop offset="0.9999" stop-color="#f8fbfe"/></linearGradient><linearGradient id="h8"><stop offset="0.0000" stop-color="#f8fbfe"/><stop offset="0.0084" stop-color="#f8fbfe"/><stop offset="0.0091" stop-color="#e0daea"/><stop offset="0.0106" stop-color="#e0daea"/><stop offset="0.0113" stop-color="#fdfdfe"/><stop offset="0.1077" stop-color="#f4f4f9"/><stop offset="0.1604" stop-color="#edecf5"/><stop offset="0.2392" stop-color="#f3f3f9"/><stop offset="0.3504" stop-color="#e6e5f2"/><stop offset="0.3968" stop-color="#e5e4f2"/><stop offset="0.4180" stop-color="#d5d7ea"/><stop offset="0.4348" stop-color="#c9cfe5"/><stop offset="0.4482" stop-color="#ced2e7"/><stop offset="0.4827" stop-color="#f2f1f8"/><stop offset="0.5094" stop-color="#fbfbfd"/><stop offset="0.6431" stop-color="#fffdfd"/><stop offset="0.7775" stop-color="#fcdbdc"/><stop offset="0.8011" stop-color="#fcd4d5"/><stop offset="0.8011" stop-color="#f15056"/><stop offset="0.8412" stop-color="#f15056"/><stop offset="0.8412" stop-color="#fbccce"/><stop offset="0.8880" stop-color="#fcd3d5"/><stop offset="0.9513" stop-color="#fde8e9"/><stop offset="0.9773" stop-color="#fde9ea"/><stop offset="0.9900" stop-color="#fef1f2"/><stop offset="0.9907" stop-color="#f8fbfe"/><stop offset="0.9999" stop-color="#f8fbfe"/></linearGradient><linearGradient id="h9"><stop offset="0.0000" stop-color="#f8fbfe"/><stop offset="0.0084" stop-color="#f8fbfe"/><stop offset="0.0091" stop-color="#e0daea"/><stop offset="0.0106" stop-color="#e0daea"/><stop offset="0.0113" stop-color="#fefdfe"/><stop offset="0.0999" stop-color="#f4f4f9"/><stop offset="0.1534" stop-color="#eae9f4"/><stop offset="0.2364" stop-color="#f2f1f8"/><stop offset="0.3497" stop-color="#e1e1f0"/><stop offset="0.3976" stop-color="#e2e1f0"/><stop offset="0.4151" stop-color="#d4d6ea"/><stop offset="0.4299" stop-color="#c8cde4"/><stop offset="0.4482" stop-color="#cacfe5"/><stop offset="0.4806" stop-color="#efeff7"/><stop offset="0.5045" stop-color="#fbfafd"/><stop offset="0.5910" stop-color="#fefeff"/><stop offset="0.6431" stop-color="#fffcfc"/><stop offset="0.7810" stop-color="#fcd7d8"/><stop offset="0.7983" stop-color="#fbd1d3"/><stop offset="0.7983" stop-color="#f03f46"/><stop offset="0.8412" stop-color="#f03f46"/><stop offset="0.8412" stop-color="#fbc9cb"/><stop offset="0.8859" stop-color="#fbd0d1"/><stop offset="0.9207" stop-color="#fcddde"/><stop offset="0.9207" stop-color="#f57d82"/><stop offset="0.9334" stop-color="#f57d82"/><stop offset="0.9334" stop-color="#fde2e3"/><stop offset="0.9583" stop-color="#fde5e6"/><stop offset="0.9773" stop-color="#fde7e7"/><stop offset="0.9900" stop-color="#fef0f0"/><stop offset="0.9907" stop-color="#f8fbfe"/><stop offset="0.9999" stop-color="#f8fbfe"/></linearGradient><linearGradient id="h10"><stop offset="0.0000" stop-color="#f8fbfe"/><stop offset="0.0084" stop-color="#f8fbfe"/><stop offset="0.0091" stop-color="#e0daea"/><stop offset="0.0106" stop-color="#e0daea"/><stop offset="0.0113" stop-color="#fefeff"/><stop offset="0.0711" stop-color="#f8f8fb"/><stop offset="0.1534" stop-color="#e6e6f2"/><stop offset="0.2336" stop-color="#f1f0f7"/><stop offset="0.3574" stop-color="#dbdbed"/><stop offset="0.3976" stop-color="#dedeef"/><stop offset="0.4130" stop-color="#d3d6ea"/><stop offset="0.4257" stop-color="#c7cde4"/><stop offset="0.4475" stop-color="#c7cde4"/><stop offset="0.4602" stop-color="#d7d8eb"/><stop offset="0.4841" stop-color="#f2f1f8"/><stop offset="0.5101" stop-color="#fcfcfd"/><stop offset="0.5587" stop-color="#fffefe"/><stop offset="0.6375" stop-color="#fffcfc"/><stop offset="0.7824" stop-color="#fcd4d5"/><stop offset="0.7962" stop-color="#fbcfd0"/><stop offset="0.7962" stop-color="#ee2d35"/><stop offset="0.8412" stop-color="#ee2d35"/><stop offset="0.8412" stop-color="#fac5c7"/><stop offset="0.8845" stop-color="#fbccce"/><stop offset="0.9165" stop-color="#fcd8da"/><stop offset="0.9165" stop-color="#f25d63"/><stop offset="0.9425" stop-color="#f25d63"/><stop offset="0.9425" stop-color="#fde3e4"/><stop offset="0.9759" stop-color="#fde3e4"/><stop offset="0.9900" stop-color="#feeeef"/><stop offset="0.9907" stop-color="#f8fbfe"/><stop offset="0.9999" stop-color="#f8fbfe"/></linearGradient><linearGradient id="h11"><stop offset="0.0000" stop-color="#f8fbfe"/><stop offset="0.0084" stop-color="#f8fbfe"/><stop offset="0.0091" stop-color="#e0daea"/><stop offset="0.0106" stop-color="#e0daea"/><stop offset="0.0113" stop-color="#ffffff"/><stop offset="0.0450" stop-color="#fcfcfd"/><stop offset="0.1105" stop-color="#eeedf6"/><stop offset="0.1527" stop-color="#e3e3f1"/><stop offset="0.2322" stop-color="#efeff7"/><stop offset="0.2843" stop-color="#e4e4f1"/><stop offset="0.3659" stop-color="#d5d7ea"/><stop offset="0.3961" stop-color="#dcdced"/><stop offset="0.4116" stop-color="#d2d4e9"/><stop offset="0.4229" stop-color="#c7cde3"/><stop offset="0.4447" stop-color="#c6cbe2"/><stop offset="0.4538" stop-color="#cbd0e6"/><stop offset="0.4750" stop-color="#e9e8f3"/><stop offset="0.4968" stop-color="#f9f8fc"/><stop offset="0.5319" stop-color="#fffefe"/><stop offset="0.6009" stop-color="#fffdfd"/><stop offset="0.6473" stop-color="#fef9f9"/><stop offset="0.7261" stop-color="#fde1e2"/><stop offset="0.7926" stop-color="#fbcdcf"/><stop offset="0.7926" stop-color="#e61b23"/><stop offset="0.8204" stop-color="#e21b23"/><stop offset="0.8412" stop-color="#e81c24"/><stop offset="0.8412" stop-color="#fac1c4"/><stop offset="0.8831" stop-color="#fbc8ca"/><stop offset="0.9144" stop-color="#fcd5d7"/><stop offset="0.9144" stop-color="#f0434a"/><stop offset="0.9517" stop-color="#f0434a"/><stop offset="0.9517" stop-color="#fde2e3"/><stop offset="0.9745" stop-color="#fde0e1"/><stop offset="0.9900" stop-color="#feeded"/><stop offset="0.9907" stop-color="#f8fbfe"/><stop offset="0.9999" stop-color="#f8fbfe"/></linearGradient><linearGradient id="h12"><stop offset="0.0000" stop-color="#f8fbfe"/><stop offset="0.0084" stop-color="#f8fbfe"/><stop offset="0.0091" stop-color="#e0daea"/><stop offset="0.0106" stop-color="#e0daea"/><stop offset="0.0113" stop-color="#fffefe"/><stop offset="0.0422" stop-color="#fdfcfe"/><stop offset="0.1112" stop-color="#ecebf5"/><stop offset="0.1513" stop-color="#e0e0f0"/><stop offset="0.2308" stop-color="#eeeef6"/><stop offset="0.2772" stop-color="#e5e4f1"/><stop offset="0.3434" stop-color="#d3d5e9"/><stop offset="0.3666" stop-color="#ced2e7"/><stop offset="0.3968" stop-color="#d8d9ec"/><stop offset="0.4130" stop-color="#ced2e7"/><stop offset="0.4222" stop-color="#c7cce3"/><stop offset="0.4440" stop-color="#c6cae1"/><stop offset="0.4545" stop-color="#cbd0e6"/><stop offset="0.4742" stop-color="#e7e7f3"/><stop offset="0.4954" stop-color="#f8f8fc"/><stop offset="0.5228" stop-color="#fffefe"/><stop offset="0.5791" stop-color="#fffafa"/><stop offset="0.6340" stop-color="#fffafb"/><stop offset="0.6836" stop-color="#fde9ea"/><stop offset="0.6836" stop-color="#f47277"/><stop offset="0.7019" stop-color="#f47277"/><stop offset="0.7019" stop-color="#fde3e4"/><stop offset="0.7747" stop-color="#fbd1d3"/><stop offset="0.7863" stop-color="#fbccce"/><stop offset="0.7863" stop-color="#e41b23"/><stop offset="0.8127" stop-color="#d81a22"/><stop offset="0.8359" stop-color="#e11b23"/><stop offset="0.8412" stop-color="#e41b23"/><stop offset="0.8412" stop-color="#fabfc2"/><stop offset="0.8760" stop-color="#fac3c5"/><stop offset="0.9130" stop-color="#fbd2d4"/><stop offset="0.9130" stop-color="#ee262e"/><stop offset="0.9552" stop-color="#ee262e"/><stop offset="0.9552" stop-color="#fcdfe1"/><stop offset="0.9745" stop-color="#fcddde"/><stop offset="0.9900" stop-color="#fdebec"/><stop offset="0.9907" stop-color="#f8fbfe"/><stop offset="0.9999" stop-color="#f8fbfe"/></linearGradient><linearGradient id="h13"><stop offset="0.0000" stop-color="#f8fbfe"/><stop offset="0.0084" stop-color="#f8fbfe"/><stop offset="0.0091" stop-color="#e0daea"/><stop offset="0.0106" stop-color="#e0daea"/><stop offset="0.0113" stop-color="#fffdfd"/><stop offset="0.0310" stop-color="#fffdfd"/><stop offset="0.0415" stop-color="#fdfdfe"/><stop offset="0.1140" stop-color="#eae9f4"/><stop offset="0.1513" stop-color="#dfdfef"/><stop offset="0.2301" stop-color="#eeedf6"/><stop offset="0.2744" stop-color="#e5e5f2"/><stop offset="0.3384" stop-color="#d1d4e8"/><stop offset="0.3624" stop-color="#c8cee4"/><stop offset="0.3870" stop-color="#d2d5e9"/><stop offset="0.4025" stop-color="#d4d6ea"/><stop offset="0.4215" stop-color="#c7cce3"/><stop offset="0.4433" stop-color="#c6cae0"/><stop offset="0.4545" stop-color="#cacfe5"/><stop offset="0.4742" stop-color="#e7e7f3"/><stop offset="0.4961" stop-color="#f9f9fc"/><stop offset="0.5165" stop-color="#fffefe"/><stop offset="0.5692" stop-color="#fef7f7"/><stop offset="0.6312" stop-color="#fff9fa"/><stop offset="0.6801" stop-color="#fde8e9"/><stop offset="0.6801" stop-color="#f15258"/><stop offset="0.7103" stop-color="#f15258"/><stop offset="0.7103" stop-color="#fcdedf"/><stop offset="0.7733" stop-color="#fbcfd1"/><stop offset="0.7800" stop-color="#fbccce"/><stop offset="0.7800" stop-color="#e31b23"/><stop offset="0.8092" stop-color="#ca1921"/><stop offset="0.8232" stop-color="#cd1a21"/><stop offset="0.8412" stop-color="#de1b23"/><stop offset="0.8412" stop-color="#fabfc2"/><stop offset="0.8816" stop-color="#fac2c4"/><stop offset="0.9108" stop-color="#fbcfd0"/><stop offset="0.9108" stop-color="#eb1c24"/><stop offset="0.9552" stop-color="#ec1c24"/><stop offset="0.9552" stop-color="#fcdddf"/><stop offset="0.9738" stop-color="#fcdadb"/><stop offset="0.9900" stop-color="#fde9ea"/><stop offset="0.9907" stop-color="#f8fbfe"/><stop offset="0.9999" stop-color="#f8fbfe"/></linearGradient><linearGradient id="h14"><stop offset="0.0000" stop-color="#f8fbfe"/><stop offset="0.0084" stop-color="#f8fbfe"/><stop offset="0.0091" stop-color="#e0daea"/><stop offset="0.0106" stop-color="#e0daea"/><stop offset="0.0113" stop-color="#fffcfc"/><stop offset="0.0296" stop-color="#fffbfb"/><stop offset="0.0415" stop-color="#fefefe"/><stop offset="0.1168" stop-color="#e8e8f3"/><stop offset="0.1520" stop-color="#dedeef"/><stop offset="0.2294" stop-color="#ededf6"/><stop offset="0.2737" stop-color="#e6e5f2"/><stop offset="0.3335" stop-color="#d1d4e9"/><stop offset="0.3525" stop-color="#c7cde3"/><stop offset="0.3800" stop-color="#c9cfe5"/><stop offset="0.3990" stop-color="#d2d5e9"/><stop offset="0.4151" stop-color="#c9cee5"/><stop offset="0.4405" stop-color="#c5c9e0"/><stop offset="0.4545" stop-color="#cad0e6"/><stop offset="0.4742" stop-color="#e8e7f3"/><stop offset="0.4961" stop-color="#fafafc"/><stop offset="0.5122" stop-color="#fffefe"/><stop offset="0.5629" stop-color="#fef3f4"/><stop offset="0.6297" stop-color="#fef8f8"/><stop offset="0.6727" stop-color="#fde8e9"/><stop offset="0.6751" stop-color="#fde7e8"/><stop offset="0.6751" stop-color="#ef383f"/><stop offset="0.7188" stop-color="#ef383f"/><stop offset="0.7188" stop-color="#fcd9da"/><stop offset="0.7708" stop-color="#fbcdcf"/><stop offset="0.7708" stop-color="#e51b23"/><stop offset="0.7874" stop-color="#d31a22"/><stop offset="0.8064" stop-color="#b9181f"/><stop offset="0.8176" stop-color="#b7181f"/><stop offset="0.8317" stop-color="#c71920"/><stop offset="0.8426" stop-color="#d71a22"/><stop offset="0.8426" stop-color="#fabfc2"/><stop offset="0.8880" stop-color="#fac2c4"/><stop offset="0.9087" stop-color="#fbcbcd"/><stop offset="0.9087" stop-color="#e91c24"/><stop offset="0.9471" stop-color="#e91c24"/><stop offset="0.9552" stop-color="#ea1c24"/><stop offset="0.9552" stop-color="#fcdcdd"/><stop offset="0.9738" stop-color="#fcd8d9"/><stop offset="0.9900" stop-color="#fde8e9"/><stop offset="0.9907" stop-color="#f8fbfe"/><stop offset="0.9999" stop-color="#f8fbfe"/></linearGradient><linearGradient id="h15"><stop offset="0.0000" stop-color="#f8fbfe"/><stop offset="0.0084" stop-color="#f8fbfe"/><stop offset="0.0091" stop-color="#e0daea"/><stop offset="0.0106" stop-color="#e0daea"/><stop offset="0.0113" stop-color="#fffafa"/><stop offset="0.0274" stop-color="#fef8f8"/><stop offset="0.0429" stop-color="#fefefe"/><stop offset="0.1210" stop-color="#e7e6f3"/><stop offset="0.1541" stop-color="#dfdfef"/><stop offset="0.2287" stop-color="#ededf6"/><stop offset="0.2737" stop-color="#e7e6f2"/><stop offset="0.3286" stop-color="#d4d6ea"/><stop offset="0.3483" stop-color="#c7cde3"/><stop offset="0.3750" stop-color="#c7cbe2"/><stop offset="0.3891" stop-color="#ccd1e6"/><stop offset="0.4046" stop-color="#d0d3e8"/><stop offset="0.4229" stop-color="#c7cce2"/><stop offset="0.4454" stop-color="#c6cbe2"/><stop offset="0.4538" stop-color="#cbd0e6"/><stop offset="0.4750" stop-color="#e9e8f3"/><stop offset="0.4975" stop-color="#fcfbfd"/><stop offset="0.5087" stop-color="#fffefe"/><stop offset="0.5587" stop-color="#fef0f0"/><stop offset="0.6297" stop-color="#fef6f7"/><stop offset="0.6677" stop-color="#fde7e8"/><stop offset="0.6730" stop-color="#fde5e6"/><stop offset="0.6730" stop-color="#ee242b"/><stop offset="0.7029" stop-color="#eb1c24"/><stop offset="0.7258" stop-color="#ed2028"/><stop offset="0.7258" stop-color="#fcd4d6"/><stop offset="0.7603" stop-color="#fbcfd0"/><stop offset="0.7603" stop-color="#e91c24"/><stop offset="0.7754" stop-color="#dd1b22"/><stop offset="0.7909" stop-color="#bf1820"/><stop offset="0.8057" stop-color="#a1161d"/><stop offset="0.8148" stop-color="#9c161c"/><stop offset="0.8247" stop-color="#a7171d"/><stop offset="0.8440" stop-color="#d01a21"/><stop offset="0.8440" stop-color="#fabfc2"/><stop offset="0.8929" stop-color="#fac2c4"/><stop offset="0.9066" stop-color="#fbc8ca"/><stop offset="0.9066" stop-color="#e41b23"/><stop offset="0.9337" stop-color="#df1b23"/><stop offset="0.9552" stop-color="#e61b23"/><stop offset="0.9552" stop-color="#fcdadb"/><stop offset="0.9731" stop-color="#fcd5d7"/><stop offset="0.9879" stop-color="#fde4e5"/><stop offset="0.9900" stop-color="#fde7e8"/><stop offset="0.9907" stop-color="#f8fbfe"/><stop offset="0.9999" stop-color="#f8fbfe"/></linearGradient><linearGradient id="h16"><stop offset="0.0000" stop-color="#f8fbfe"/><stop offset="0.0084" stop-color="#f8fbfe"/><stop offset="0.0091" stop-color="#e0daea"/><stop offset="0.0106" stop-color="#e0daea"/><stop offset="0.0113" stop-color="#fef8f9"/><stop offset="0.0267" stop-color="#fef6f6"/><stop offset="0.0436" stop-color="#fefeff"/><stop offset="0.0901" stop-color="#f1f0f7"/><stop offset="0.1513" stop-color="#e1e1f0"/><stop offset="0.2301" stop-color="#eeedf6"/><stop offset="0.2765" stop-color="#e8e8f3"/><stop offset="0.3272" stop-color="#d6d8eb"/><stop offset="0.3469" stop-color="#c7cce3"/><stop offset="0.3729" stop-color="#c6cae1"/><stop offset="0.3898" stop-color="#cbd0e6"/><stop offset="0.4053" stop-color="#cfd3e8"/><stop offset="0.4250" stop-color="#c7cce2"/><stop offset="0.4475" stop-color="#c7cde3"/><stop offset="0.4545" stop-color="#ced2e7"/><stop offset="0.4778" stop-color="#edecf5"/><stop offset="0.5017" stop-color="#ffffff"/><stop offset="0.5559" stop-color="#fdeced"/><stop offset="0.5946" stop-color="#fef1f1"/><stop offset="0.6305" stop-color="#fef4f5"/><stop offset="0.6656" stop-color="#fde6e6"/><stop offset="0.6716" stop-color="#fde2e3"/><stop offset="0.6716" stop-color="#e91c24"/><stop offset="0.7043" stop-color="#d91a22"/><stop offset="0.7254" stop-color="#e21b23"/><stop offset="0.7342" stop-color="#e71c23"/><stop offset="0.7342" stop-color="#fbd0d2"/><stop offset="0.7511" stop-color="#fbced0"/><stop offset="0.7511" stop-color="#ea1c24"/><stop offset="0.7670" stop-color="#e31b23"/><stop offset="0.7789" stop-color="#d01a21"/><stop offset="0.7944" stop-color="#a3161d"/><stop offset="0.8050" stop-color="#86141a"/><stop offset="0.8218" stop-color="#86141a"/><stop offset="0.8338" stop-color="#a7171d"/><stop offset="0.8440" stop-color="#c51920"/><stop offset="0.8440" stop-color="#fabfc2"/><stop offset="0.8964" stop-color="#fac1c4"/><stop offset="0.9045" stop-color="#fac6c8"/><stop offset="0.9045" stop-color="#dd1b22"/><stop offset="0.9267" stop-color="#cf1a21"/><stop offset="0.9436" stop-color="#d51a22"/><stop offset="0.9552" stop-color="#de1b23"/><stop offset="0.9552" stop-color="#fcd8da"/><stop offset="0.9731" stop-color="#fcd3d5"/><stop offset="0.9872" stop-color="#fde2e3"/><stop offset="0.9900" stop-color="#fde5e6"/><stop offset="0.9907" stop-color="#f8fbfe"/><stop offset="0.9999" stop-color="#f8fbfe"/></linearGradient><linearGradient id="h17"><stop offset="0.0000" stop-color="#f8fbfe"/><stop offset="0.0084" stop-color="#f8fbfe"/><stop offset="0.0091" stop-color="#e0daea"/><stop offset="0.0106" stop-color="#e0daea"/><stop offset="0.0113" stop-color="#fef7f7"/><stop offset="0.0260" stop-color="#fef3f4"/><stop offset="0.0450" stop-color="#fefeff"/><stop offset="0.0865" stop-color="#f1f0f7"/><stop offset="0.1154" stop-color="#ecebf5"/><stop offset="0.1520" stop-color="#e4e3f1"/><stop offset="0.2259" stop-color="#efeef6"/><stop offset="0.2744" stop-color="#ecebf5"/><stop offset="0.3272" stop-color="#d9d9ec"/><stop offset="0.3469" stop-color="#c7cde3"/><stop offset="0.3722" stop-color="#c5c9e0"/><stop offset="0.3905" stop-color="#cbd0e6"/><stop offset="0.4060" stop-color="#d0d4e8"/><stop offset="0.4278" stop-color="#c7cce3"/><stop offset="0.4489" stop-color="#c9cfe5"/><stop offset="0.4813" stop-color="#f2f1f8"/><stop offset="0.5010" stop-color="#fffefe"/><stop offset="0.5516" stop-color="#fde8e9"/><stop offset="0.5833" stop-color="#fdeaea"/><stop offset="0.6255" stop-color="#fef3f3"/><stop offset="0.6551" stop-color="#fde9ea"/><stop offset="0.6695" stop-color="#fde0e1"/><stop offset="0.6695" stop-color="#e81c23"/><stop offset="0.7022" stop-color="#d01a21"/><stop offset="0.7170" stop-color="#d51a22"/><stop offset="0.7423" stop-color="#e81c24"/><stop offset="0.7592" stop-color="#e71c23"/><stop offset="0.7712" stop-color="#d91a22"/><stop offset="0.7817" stop-color="#be1820"/><stop offset="0.7965" stop-color="#85141a"/><stop offset="0.8303" stop-color="#85141a"/><stop offset="0.8437" stop-color="#ba181f"/><stop offset="0.8447" stop-color="#bc181f"/><stop offset="0.8447" stop-color="#fabfc2"/><stop offset="0.8992" stop-color="#fac1c4"/><stop offset="0.9010" stop-color="#fac2c4"/><stop offset="0.9010" stop-color="#d41a22"/><stop offset="0.9225" stop-color="#b9181f"/><stop offset="0.9337" stop-color="#b8181f"/><stop offset="0.9492" stop-color="#ca1921"/><stop offset="0.9552" stop-color="#d21a21"/><stop offset="0.9552" stop-color="#fcd7d9"/><stop offset="0.9724" stop-color="#fbd1d3"/><stop offset="0.9851" stop-color="#fcdddf"/><stop offset="0.9900" stop-color="#fde4e5"/><stop offset="0.9907" stop-color="#f8fbfe"/><stop offset="0.9999" stop-color="#f8fbfe"/></linearGradient><linearGradient id="h18"><stop offset="0.0000" stop-color="#f8fbfe"/><stop offset="0.0084" stop-color="#f8fbfe"/><stop offset="0.0091" stop-color="#e0daea"/><stop offset="0.0106" stop-color="#e0daea"/><stop offset="0.0113" stop-color="#fef5f6"/><stop offset="0.0253" stop-color="#fef1f1"/><stop offset="0.0464" stop-color="#fefeff"/><stop offset="0.0851" stop-color="#f0f0f7"/><stop offset="0.1126" stop-color="#efeef6"/><stop offset="0.1513" stop-color="#e7e7f3"/><stop offset="0.2111" stop-color="#f0eff7"/><stop offset="0.2744" stop-color="#f0eff7"/><stop offset="0.3272" stop-color="#dcdced"/><stop offset="0.3476" stop-color="#c7cde3"/><stop offset="0.3715" stop-color="#c5c9e0"/><stop offset="0.3905" stop-color="#cbd0e6"/><stop offset="0.4060" stop-color="#d2d5e9"/><stop offset="0.4334" stop-color="#c7cde4"/><stop offset="0.4461" stop-color="#cbd0e6"/><stop offset="0.4855" stop-color="#f7f6fb"/><stop offset="0.4989" stop-color="#fffefe"/><stop offset="0.5502" stop-color="#fde4e5"/><stop offset="0.5784" stop-color="#fde4e5"/><stop offset="0.6241" stop-color="#fef1f1"/><stop offset="0.6516" stop-color="#fde8e9"/><stop offset="0.6688" stop-color="#fcdedf"/><stop offset="0.6688" stop-color="#e61b23"/><stop offset="0.6889" stop-color="#d01a21"/><stop offset="0.7029" stop-color="#c31920"/><stop offset="0.7149" stop-color="#c81920"/><stop offset="0.7402" stop-color="#e51b23"/><stop offset="0.7557" stop-color="#e81c23"/><stop offset="0.7677" stop-color="#dc1b22"/><stop offset="0.7768" stop-color="#c61920"/><stop offset="0.7867" stop-color="#9f161d"/><stop offset="0.7923" stop-color="#85141a"/><stop offset="0.8345" stop-color="#85141a"/><stop offset="0.8447" stop-color="#b2171e"/><stop offset="0.8447" stop-color="#fabfc2"/><stop offset="0.8989" stop-color="#fac0c2"/><stop offset="0.8989" stop-color="#c91921"/><stop offset="0.9196" stop-color="#9b161c"/><stop offset="0.9288" stop-color="#93151b"/><stop offset="0.9379" stop-color="#9b161c"/><stop offset="0.9552" stop-color="#c11920"/><stop offset="0.9552" stop-color="#fcd6d8"/><stop offset="0.9724" stop-color="#fbd0d2"/><stop offset="0.9851" stop-color="#fcdcde"/><stop offset="0.9900" stop-color="#fde4e5"/><stop offset="0.9907" stop-color="#f8fbfe"/><stop offset="0.9999" stop-color="#f8fbfe"/></linearGradient><linearGradient id="h19"><stop offset="0.0000" stop-color="#f8fbfe"/><stop offset="0.0084" stop-color="#f8fbfe"/><stop offset="0.0091" stop-color="#e0daea"/><stop offset="0.0106" stop-color="#e0daea"/><stop offset="0.0113" stop-color="#fef4f4"/><stop offset="0.0246" stop-color="#feefef"/><stop offset="0.0471" stop-color="#fefeff"/><stop offset="0.0837" stop-color="#f0eff7"/><stop offset="0.1112" stop-color="#f1f1f8"/><stop offset="0.1513" stop-color="#ebeaf4"/><stop offset="0.1970" stop-color="#f2f2f8"/><stop offset="0.2765" stop-color="#f4f3f9"/><stop offset="0.3272" stop-color="#dfdfef"/><stop offset="0.3497" stop-color="#c7cde3"/><stop offset="0.3729" stop-color="#c6cae0"/><stop offset="0.3891" stop-color="#cbd0e6"/><stop offset="0.4053" stop-color="#d4d6ea"/><stop offset="0.4377" stop-color="#cbd0e6"/><stop offset="0.4531" stop-color="#d6d8eb"/><stop offset="0.4883" stop-color="#fafafc"/><stop offset="0.4968" stop-color="#fffefe"/><stop offset="0.5488" stop-color="#fde0e1"/><stop offset="0.5749" stop-color="#fcdfe0"/><stop offset="0.6234" stop-color="#feeeef"/><stop offset="0.6495" stop-color="#fde7e8"/><stop offset="0.6688" stop-color="#fcdbdc"/><stop offset="0.6688" stop-color="#e31b23"/><stop offset="0.6839" stop-color="#ce1a21"/><stop offset="0.6994" stop-color="#b6181f"/><stop offset="0.7093" stop-color="#b5181f"/><stop offset="0.7219" stop-color="#c61920"/><stop offset="0.7388" stop-color="#e11b23"/><stop offset="0.7522" stop-color="#e71c23"/><stop offset="0.7641" stop-color="#e01b23"/><stop offset="0.7733" stop-color="#cd1a21"/><stop offset="0.7817" stop-color="#ad171e"/><stop offset="0.7895" stop-color="#86141a"/><stop offset="0.8373" stop-color="#86141a"/><stop offset="0.8447" stop-color="#aa171e"/><stop offset="0.8447" stop-color="#fabfc2"/><stop offset="0.8954" stop-color="#fabfc2"/><stop offset="0.8954" stop-color="#c31920"/><stop offset="0.9077" stop-color="#9b161c"/><stop offset="0.9140" stop-color="#85141a"/><stop offset="0.9443" stop-color="#87141a"/><stop offset="0.9552" stop-color="#ad171e"/><stop offset="0.9552" stop-color="#fcd5d7"/><stop offset="0.9724" stop-color="#fbcfd1"/><stop offset="0.9844" stop-color="#fcdbdc"/><stop offset="0.9900" stop-color="#fde3e4"/><stop offset="0.9907" stop-color="#f8fbfe"/><stop offset="0.9999" stop-color="#f8fbfe"/></linearGradient><linearGradient id="h20"><stop offset="0.0000" stop-color="#f8fbfe"/><stop offset="0.0084" stop-color="#f8fbfe"/><stop offset="0.0091" stop-color="#e0daea"/><stop offset="0.0106" stop-color="#e0daea"/><stop offset="0.0113" stop-color="#fef2f3"/><stop offset="0.0239" stop-color="#feeded"/><stop offset="0.0478" stop-color="#fefeff"/><stop offset="0.0830" stop-color="#efeff7"/><stop offset="0.1098" stop-color="#f4f3f9"/><stop offset="0.1513" stop-color="#efeff7"/><stop offset="0.1907" stop-color="#f7f6fa"/><stop offset="0.2392" stop-color="#f5f4fa"/><stop offset="0.2751" stop-color="#f9f9fc"/><stop offset="0.3272" stop-color="#e2e2f0"/><stop offset="0.3469" stop-color="#ccd1e6"/><stop offset="0.3546" stop-color="#c7cce3"/><stop offset="0.3778" stop-color="#c7cce2"/><stop offset="0.3877" stop-color="#ccd0e6"/><stop offset="0.4053" stop-color="#d7d9eb"/><stop offset="0.4391" stop-color="#d1d4e9"/><stop offset="0.4595" stop-color="#e1e1f0"/><stop offset="0.4932" stop-color="#ffffff"/><stop offset="0.5488" stop-color="#fcdbdc"/><stop offset="0.5735" stop-color="#fcd9db"/><stop offset="0.6234" stop-color="#feeced"/><stop offset="0.6480" stop-color="#fde6e7"/><stop offset="0.6688" stop-color="#fcd8d9"/><stop offset="0.6688" stop-color="#e01b23"/><stop offset="0.6811" stop-color="#cb1921"/><stop offset="0.6973" stop-color="#a7171d"/><stop offset="0.7057" stop-color="#a1161d"/><stop offset="0.7149" stop-color="#aa171e"/><stop offset="0.7374" stop-color="#db1b22"/><stop offset="0.7494" stop-color="#e61b23"/><stop offset="0.7613" stop-color="#e21b23"/><stop offset="0.7712" stop-color="#d11a21"/><stop offset="0.7796" stop-color="#b3181e"/><stop offset="0.7888" stop-color="#85141a"/><stop offset="0.8380" stop-color="#85141a"/><stop offset="0.8447" stop-color="#a6171d"/><stop offset="0.8447" stop-color="#fabfc2"/><stop offset="0.8919" stop-color="#fabfc2"/><stop offset="0.8919" stop-color="#c31920"/><stop offset="0.8999" stop-color="#a5161d"/><stop offset="0.9070" stop-color="#85141a"/><stop offset="0.9506" stop-color="#85141a"/><stop offset="0.9552" stop-color="#99161c"/><stop offset="0.9552" stop-color="#fcd5d7"/><stop offset="0.9724" stop-color="#fbced0"/><stop offset="0.9844" stop-color="#fcdadb"/><stop offset="0.9900" stop-color="#fde3e4"/><stop offset="0.9907" stop-color="#f8fbfe"/><stop offset="0.9999" stop-color="#f8fbfe"/></linearGradient><linearGradient id="h21"><stop offset="0.0000" stop-color="#f8fbfe"/><stop offset="0.0084" stop-color="#f8fbfe"/><stop offset="0.0091" stop-color="#e0daea"/><stop offset="0.0106" stop-color="#e0daea"/><stop offset="0.0113" stop-color="#fef2f2"/><stop offset="0.0239" stop-color="#fdebec"/><stop offset="0.0486" stop-color="#fefeff"/><stop offset="0.0823" stop-color="#efeef6"/><stop offset="0.1098" stop-color="#f5f5fa"/><stop offset="0.1513" stop-color="#f3f3f9"/><stop offset="0.1872" stop-color="#fbfbfd"/><stop offset="0.2315" stop-color="#f6f5fa"/><stop offset="0.2737" stop-color="#fefefe"/><stop offset="0.3279" stop-color="#e4e4f1"/><stop offset="0.3567" stop-color="#c7cde4"/><stop offset="0.3800" stop-color="#c8cee4"/><stop offset="0.4032" stop-color="#dadbed"/><stop offset="0.4278" stop-color="#d7d8eb"/><stop offset="0.4447" stop-color="#d9daec"/><stop offset="0.4925" stop-color="#fffefe"/><stop offset="0.5488" stop-color="#fcd7d8"/><stop offset="0.5721" stop-color="#fcd5d6"/><stop offset="0.6227" stop-color="#fdeaeb"/><stop offset="0.6459" stop-color="#fde5e6"/><stop offset="0.6688" stop-color="#fcd5d6"/><stop offset="0.6688" stop-color="#dd1b22"/><stop offset="0.6790" stop-color="#c71920"/><stop offset="0.6966" stop-color="#95151c"/><stop offset="0.7043" stop-color="#8c151b"/><stop offset="0.7121" stop-color="#92151b"/><stop offset="0.7233" stop-color="#b0171e"/><stop offset="0.7367" stop-color="#d41a22"/><stop offset="0.7473" stop-color="#e31b23"/><stop offset="0.7585" stop-color="#e41b23"/><stop offset="0.7684" stop-color="#d81a22"/><stop offset="0.7768" stop-color="#bf1820"/><stop offset="0.7860" stop-color="#95151c"/><stop offset="0.7888" stop-color="#85141a"/><stop offset="0.8380" stop-color="#85141a"/><stop offset="0.8447" stop-color="#a7171d"/><stop offset="0.8447" stop-color="#fabfc2"/><stop offset="0.8904" stop-color="#fabfc2"/><stop offset="0.8904" stop-color="#c11920"/><stop offset="0.8978" stop-color="#a4161d"/><stop offset="0.9042" stop-color="#85141a"/><stop offset="0.9534" stop-color="#85141a"/><stop offset="0.9552" stop-color="#8b141b"/><stop offset="0.9552" stop-color="#fcd5d6"/><stop offset="0.9724" stop-color="#fbced0"/><stop offset="0.9844" stop-color="#fcdadb"/><stop offset="0.9900" stop-color="#fde3e4"/><stop offset="0.9907" stop-color="#f8fbfe"/><stop offset="0.9999" stop-color="#f8fbfe"/></linearGradient><linearGradient id="h22"><stop offset="0.0000" stop-color="#f8fbfe"/><stop offset="0.0084" stop-color="#f8fbfe"/><stop offset="0.0091" stop-color="#e0daea"/><stop offset="0.0106" stop-color="#e0daea"/><stop offset="0.0113" stop-color="#fef1f1"/><stop offset="0.0239" stop-color="#fdebeb"/><stop offset="0.0493" stop-color="#fefeff"/><stop offset="0.0816" stop-color="#eeeef6"/><stop offset="0.1098" stop-color="#f7f7fb"/><stop offset="0.1513" stop-color="#f7f6fb"/><stop offset="0.1787" stop-color="#fffefe"/><stop offset="0.1998" stop-color="#fcfcfd"/><stop offset="0.2315" stop-color="#f8f7fb"/><stop offset="0.2575" stop-color="#fffefe"/><stop offset="0.2758" stop-color="#fffbfb"/><stop offset="0.2864" stop-color="#fefefe"/><stop offset="0.3328" stop-color="#e4e3f1"/><stop offset="0.3610" stop-color="#c8cee5"/><stop offset="0.3771" stop-color="#cacfe5"/><stop offset="0.4025" stop-color="#ddddee"/><stop offset="0.4426" stop-color="#dedeee"/><stop offset="0.4750" stop-color="#f5f4f9"/><stop offset="0.4904" stop-color="#fffefe"/><stop offset="0.5488" stop-color="#fbd3d4"/><stop offset="0.5713" stop-color="#fbd0d2"/><stop offset="0.6227" stop-color="#fde8e9"/><stop offset="0.6452" stop-color="#fde3e4"/><stop offset="0.6688" stop-color="#fbd2d4"/><stop offset="0.6688" stop-color="#d91a22"/><stop offset="0.6783" stop-color="#c01920"/><stop offset="0.6945" stop-color="#86141a"/><stop offset="0.7156" stop-color="#86141a"/><stop offset="0.7353" stop-color="#cb1921"/><stop offset="0.7451" stop-color="#df1b23"/><stop offset="0.7557" stop-color="#e51b23"/><stop offset="0.7663" stop-color="#dd1b22"/><stop offset="0.7754" stop-color="#c71920"/><stop offset="0.7845" stop-color="#a2161d"/><stop offset="0.7902" stop-color="#85141a"/><stop offset="0.8366" stop-color="#85141a"/><stop offset="0.8447" stop-color="#ac171e"/><stop offset="0.8447" stop-color="#fabfc2"/><stop offset="0.8904" stop-color="#fabfc2"/><stop offset="0.8904" stop-color="#bf1820"/><stop offset="0.8971" stop-color="#a4161d"/><stop offset="0.9035" stop-color="#85141a"/><stop offset="0.9541" stop-color="#85141a"/><stop offset="0.9552" stop-color="#87141a"/><stop offset="0.9552" stop-color="#fcd5d7"/><stop offset="0.9724" stop-color="#fbcfd0"/><stop offset="0.9844" stop-color="#fcdadc"/><stop offset="0.9900" stop-color="#fde3e4"/><stop offset="0.9907" stop-color="#f8fbfe"/><stop offset="0.9999" stop-color="#f8fbfe"/></linearGradient><linearGradient id="h23"><stop offset="0.0000" stop-color="#f8fbfe"/><stop offset="0.0084" stop-color="#f8fbfe"/><stop offset="0.0091" stop-color="#e0daea"/><stop offset="0.0106" stop-color="#e0daea"/><stop offset="0.0113" stop-color="#fef1f1"/><stop offset="0.0239" stop-color="#fdeaeb"/><stop offset="0.0500" stop-color="#fefeff"/><stop offset="0.0816" stop-color="#eeeef6"/><stop offset="0.1091" stop-color="#f8f8fb"/><stop offset="0.1506" stop-color="#faf9fc"/><stop offset="0.1661" stop-color="#fffefe"/><stop offset="0.1851" stop-color="#fff9f9"/><stop offset="0.2019" stop-color="#fefefe"/><stop offset="0.2294" stop-color="#f9f9fc"/><stop offset="0.2512" stop-color="#fffefe"/><stop offset="0.2716" stop-color="#fef5f5"/><stop offset="0.2927" stop-color="#fefefe"/><stop offset="0.3356" stop-color="#e4e4f1"/><stop offset="0.3617" stop-color="#ced2e7"/><stop offset="0.3764" stop-color="#cfd3e8"/><stop offset="0.4032" stop-color="#e1e1f0"/><stop offset="0.4433" stop-color="#e3e3f1"/><stop offset="0.4890" stop-color="#fffefe"/><stop offset="0.5488" stop-color="#fbcfd1"/><stop offset="0.5706" stop-color="#fbcdce"/><stop offset="0.6227" stop-color="#fde6e7"/><stop offset="0.6445" stop-color="#fde2e3"/><stop offset="0.6688" stop-color="#fbd0d2"/><stop offset="0.6688" stop-color="#d51a22"/><stop offset="0.6769" stop-color="#bd181f"/><stop offset="0.6903" stop-color="#85141a"/><stop offset="0.7205" stop-color="#86141a"/><stop offset="0.7346" stop-color="#c21920"/><stop offset="0.7437" stop-color="#da1b22"/><stop offset="0.7536" stop-color="#e51b23"/><stop offset="0.7641" stop-color="#e11b23"/><stop offset="0.7740" stop-color="#d01a21"/><stop offset="0.7838" stop-color="#af171e"/><stop offset="0.7930" stop-color="#85141a"/><stop offset="0.8338" stop-color="#85141a"/><stop offset="0.8437" stop-color="#b2171e"/><stop offset="0.8447" stop-color="#b4181f"/><stop offset="0.8447" stop-color="#fabfc2"/><stop offset="0.8926" stop-color="#fabfc2"/><stop offset="0.8926" stop-color="#bb181f"/><stop offset="0.8999" stop-color="#9d161c"/><stop offset="0.9049" stop-color="#85141a"/><stop offset="0.9527" stop-color="#85141a"/><stop offset="0.9552" stop-color="#8e151b"/><stop offset="0.9552" stop-color="#fcd6d7"/><stop offset="0.9724" stop-color="#fbcfd1"/><stop offset="0.9844" stop-color="#fcdbdc"/><stop offset="0.9900" stop-color="#fde3e4"/><stop offset="0.9907" stop-color="#f8fbfe"/><stop offset="0.9999" stop-color="#f8fbfe"/></linearGradient><linearGradient id="h24"><stop offset="0.0000" stop-color="#f8fbfe"/><stop offset="0.0084" stop-color="#f8fbfe"/><stop offset="0.0091" stop-color="#e0daea"/><stop offset="0.0106" stop-color="#e0daea"/><stop offset="0.0113" stop-color="#fef1f1"/><stop offset="0.0239" stop-color="#fdebeb"/><stop offset="0.0500" stop-color="#fffeff"/><stop offset="0.0816" stop-color="#efeef6"/><stop offset="0.1091" stop-color="#f9f9fc"/><stop offset="0.1499" stop-color="#fcfcfd"/><stop offset="0.1597" stop-color="#fffefe"/><stop offset="0.1808" stop-color="#fef4f5"/><stop offset="0.2062" stop-color="#fefeff"/><stop offset="0.2315" stop-color="#fafafd"/><stop offset="0.2470" stop-color="#fffefe"/><stop offset="0.2702" stop-color="#fef0f1"/><stop offset="0.2871" stop-color="#fef8f8"/><stop offset="0.2969" stop-color="#fefeff"/><stop offset="0.3399" stop-color="#e4e4f1"/><stop offset="0.3638" stop-color="#d3d6ea"/><stop offset="0.3800" stop-color="#d7d8eb"/><stop offset="0.4074" stop-color="#e5e5f2"/><stop offset="0.4426" stop-color="#e9e8f3"/><stop offset="0.4869" stop-color="#fffefe"/><stop offset="0.5495" stop-color="#fbccce"/><stop offset="0.5706" stop-color="#fbcacc"/><stop offset="0.6220" stop-color="#fde5e6"/><stop offset="0.6431" stop-color="#fde2e3"/><stop offset="0.6688" stop-color="#fbced0"/><stop offset="0.6688" stop-color="#d11a21"/><stop offset="0.6762" stop-color="#b9181f"/><stop offset="0.6867" stop-color="#85141a"/><stop offset="0.7233" stop-color="#85141a"/><stop offset="0.7346" stop-color="#bb181f"/><stop offset="0.7430" stop-color="#d61a22"/><stop offset="0.7522" stop-color="#e31b23"/><stop offset="0.7634" stop-color="#e31b23"/><stop offset="0.7740" stop-color="#d51a22"/><stop offset="0.7845" stop-color="#b8181f"/><stop offset="0.7986" stop-color="#85141a"/><stop offset="0.8289" stop-color="#86141a"/><stop offset="0.8440" stop-color="#bd181f"/><stop offset="0.8440" stop-color="#fabfc2"/><stop offset="0.8968" stop-color="#fabfc2"/><stop offset="0.8968" stop-color="#b5181f"/><stop offset="0.9077" stop-color="#89141a"/><stop offset="0.9098" stop-color="#85141a"/><stop offset="0.9492" stop-color="#86141a"/><stop offset="0.9552" stop-color="#9f161c"/><stop offset="0.9552" stop-color="#fcd6d8"/><stop offset="0.9724" stop-color="#fbd0d2"/><stop offset="0.9851" stop-color="#fcddde"/><stop offset="0.9900" stop-color="#fde4e5"/><stop offset="0.9907" stop-color="#f8fbfe"/><stop offset="0.9999" stop-color="#f8fbfe"/></linearGradient><linearGradient id="h25"><stop offset="0.0000" stop-color="#f8fbfe"/><stop offset="0.0084" stop-color="#f8fbfe"/><stop offset="0.0091" stop-color="#e0daea"/><stop offset="0.0106" stop-color="#e0daea"/><stop offset="0.0113" stop-color="#fef1f2"/><stop offset="0.0239" stop-color="#fdebec"/><stop offset="0.0507" stop-color="#fefeff"/><stop offset="0.0816" stop-color="#efeff7"/><stop offset="0.1098" stop-color="#fafafc"/><stop offset="0.1492" stop-color="#fefdfe"/><stop offset="0.1562" stop-color="#fffdfd"/><stop offset="0.1794" stop-color="#fef0f1"/><stop offset="0.1984" stop-color="#fef9f9"/><stop offset="0.2097" stop-color="#fefeff"/><stop offset="0.2329" stop-color="#fcfcfd"/><stop offset="0.2442" stop-color="#fffdfd"/><stop offset="0.2688" stop-color="#feeced"/><stop offset="0.2836" stop-color="#fef1f2"/><stop offset="0.3005" stop-color="#fefeff"/><stop offset="0.3455" stop-color="#e3e3f1"/><stop offset="0.3673" stop-color="#d9daec"/><stop offset="0.4130" stop-color="#e9e8f3"/><stop offset="0.4419" stop-color="#eeeef6"/><stop offset="0.4855" stop-color="#fffefe"/><stop offset="0.5502" stop-color="#fbcacc"/><stop offset="0.5706" stop-color="#fbc8ca"/><stop offset="0.6220" stop-color="#fde4e5"/><stop offset="0.6431" stop-color="#fde0e2"/><stop offset="0.6688" stop-color="#fbccce"/><stop offset="0.6688" stop-color="#ce1a21"/><stop offset="0.6755" stop-color="#b6181f"/><stop offset="0.6846" stop-color="#85141a"/><stop offset="0.7254" stop-color="#85141a"/><stop offset="0.7353" stop-color="#b9181f"/><stop offset="0.7430" stop-color="#d41a22"/><stop offset="0.7522" stop-color="#e31b23"/><stop offset="0.7634" stop-color="#e51b23"/><stop offset="0.7754" stop-color="#d81a22"/><stop offset="0.7881" stop-color="#bb181f"/><stop offset="0.8035" stop-color="#91151b"/><stop offset="0.8120" stop-color="#86141a"/><stop offset="0.8204" stop-color="#8c151b"/><stop offset="0.8317" stop-color="#a6171d"/><stop offset="0.8391" stop-color="#bb181f"/><stop offset="0.8391" stop-color="#fabfc2"/><stop offset="0.8985" stop-color="#fac2c4"/><stop offset="0.9010" stop-color="#fac3c5"/><stop offset="0.9010" stop-color="#b7181f"/><stop offset="0.9175" stop-color="#86141a"/><stop offset="0.9401" stop-color="#86141a"/><stop offset="0.9552" stop-color="#b3181e"/><stop offset="0.9552" stop-color="#fcd8d9"/><stop offset="0.9731" stop-color="#fbd2d4"/><stop offset="0.9865" stop-color="#fde0e1"/><stop offset="0.9900" stop-color="#fde5e6"/><stop offset="0.9907" stop-color="#f8fbfe"/><stop offset="0.9999" stop-color="#f8fbfe"/></linearGradient><linearGradient id="h26"><stop offset="0.0000" stop-color="#f8fbfe"/><stop offset="0.0084" stop-color="#f8fbfe"/><stop offset="0.0091" stop-color="#e0daea"/><stop offset="0.0106" stop-color="#e0daea"/><stop offset="0.0113" stop-color="#fef2f3"/><stop offset="0.0246" stop-color="#feeded"/><stop offset="0.0507" stop-color="#fefeff"/><stop offset="0.0816" stop-color="#f0f0f7"/><stop offset="0.1105" stop-color="#fbfbfd"/><stop offset="0.1485" stop-color="#ffffff"/><stop offset="0.1787" stop-color="#feedee"/><stop offset="0.1956" stop-color="#fef4f5"/><stop offset="0.2125" stop-color="#fefeff"/><stop offset="0.2350" stop-color="#fefdfe"/><stop offset="0.2428" stop-color="#fffdfd"/><stop offset="0.2688" stop-color="#fde9ea"/><stop offset="0.2829" stop-color="#feeeee"/><stop offset="0.3026" stop-color="#fefeff"/><stop offset="0.3631" stop-color="#dfdfef"/><stop offset="0.3856" stop-color="#e3e3f1"/><stop offset="0.4173" stop-color="#edecf5"/><stop offset="0.4461" stop-color="#f6f6fa"/><stop offset="0.4834" stop-color="#fffefe"/><stop offset="0.5200" stop-color="#fde2e3"/><stop offset="0.5509" stop-color="#fbc9cb"/><stop offset="0.5713" stop-color="#fbc7c9"/><stop offset="0.6220" stop-color="#fde3e4"/><stop offset="0.6431" stop-color="#fde0e1"/><stop offset="0.6688" stop-color="#fbcbcd"/><stop offset="0.6688" stop-color="#cc1921"/><stop offset="0.6755" stop-color="#b2171e"/><stop offset="0.6832" stop-color="#86141a"/><stop offset="0.7269" stop-color="#86141a"/><stop offset="0.7353" stop-color="#b5181f"/><stop offset="0.7430" stop-color="#d21a21"/><stop offset="0.7522" stop-color="#e31b23"/><stop offset="0.7641" stop-color="#e71c23"/><stop offset="0.7775" stop-color="#dc1b22"/><stop offset="0.8057" stop-color="#a8171d"/><stop offset="0.8155" stop-color="#a4161d"/><stop offset="0.8261" stop-color="#b0171e"/><stop offset="0.8349" stop-color="#c01920"/><stop offset="0.8349" stop-color="#fabfc2"/><stop offset="0.8950" stop-color="#fac1c4"/><stop offset="0.9073" stop-color="#fbc8ca"/><stop offset="0.9073" stop-color="#bc181f"/><stop offset="0.9225" stop-color="#a2161d"/><stop offset="0.9323" stop-color="#a0161d"/><stop offset="0.9436" stop-color="#af171e"/><stop offset="0.9552" stop-color="#c71920"/><stop offset="0.9552" stop-color="#fcd9da"/><stop offset="0.9731" stop-color="#fcd4d6"/><stop offset="0.9872" stop-color="#fde2e3"/><stop offset="0.9900" stop-color="#fde6e7"/><stop offset="0.9907" stop-color="#f8fbfe"/><stop offset="0.9999" stop-color="#f8fbfe"/></linearGradient><linearGradient id="h27"><stop offset="0.0000" stop-color="#f8fbfe"/><stop offset="0.0084" stop-color="#f8fbfe"/><stop offset="0.0091" stop-color="#e0daea"/><stop offset="0.0106" stop-color="#e0daea"/><stop offset="0.0113" stop-color="#fef3f4"/><stop offset="0.0246" stop-color="#feeeef"/><stop offset="0.0507" stop-color="#fefeff"/><stop offset="0.0816" stop-color="#f2f1f8"/><stop offset="0.1112" stop-color="#fbfbfd"/><stop offset="0.1499" stop-color="#fffdfd"/><stop offset="0.1780" stop-color="#fdebec"/><stop offset="0.1942" stop-color="#fef1f2"/><stop offset="0.2146" stop-color="#fefeff"/><stop offset="0.2406" stop-color="#fffdfd"/><stop offset="0.2688" stop-color="#fde7e8"/><stop offset="0.2829" stop-color="#fdecec"/><stop offset="0.3047" stop-color="#fefeff"/><stop offset="0.3631" stop-color="#e4e3f1"/><stop offset="0.3891" stop-color="#e9e8f3"/><stop offset="0.4355" stop-color="#f7f6fa"/><stop offset="0.4560" stop-color="#ffffff"/><stop offset="0.4848" stop-color="#fffcfc"/><stop offset="0.5179" stop-color="#fde4e5"/><stop offset="0.5502" stop-color="#fbc9cb"/><stop offset="0.5706" stop-color="#fbc7c9"/><stop offset="0.6220" stop-color="#fde3e4"/><stop offset="0.6431" stop-color="#fde0e1"/><stop offset="0.6688" stop-color="#fbcbcd"/><stop offset="0.6688" stop-color="#ca1921"/><stop offset="0.6748" stop-color="#b3181e"/><stop offset="0.6825" stop-color="#87141a"/><stop offset="0.7276" stop-color="#87141a"/><stop offset="0.7360" stop-color="#b6181f"/><stop offset="0.7437" stop-color="#d31a21"/><stop offset="0.7529" stop-color="#e41b23"/><stop offset="0.7656" stop-color="#e81c24"/><stop offset="0.7817" stop-color="#dd1b22"/><stop offset="0.8071" stop-color="#be181f"/><stop offset="0.8190" stop-color="#be181f"/><stop offset="0.8299" stop-color="#c81920"/><stop offset="0.8299" stop-color="#fabfc2"/><stop offset="0.8908" stop-color="#fac2c4"/><stop offset="0.9123" stop-color="#fbccce"/><stop offset="0.9123" stop-color="#ca1921"/><stop offset="0.9274" stop-color="#bf1820"/><stop offset="0.9408" stop-color="#c61920"/><stop offset="0.9552" stop-color="#d61a22"/><stop offset="0.9552" stop-color="#fcdadc"/><stop offset="0.9731" stop-color="#fcd6d8"/><stop offset="0.9886" stop-color="#fde5e6"/><stop offset="0.9900" stop-color="#fde7e8"/><stop offset="0.9907" stop-color="#f8fbfe"/><stop offset="0.9999" stop-color="#f8fbfe"/></linearGradient><linearGradient id="h28"><stop offset="0.0000" stop-color="#f8fbfe"/><stop offset="0.0084" stop-color="#f8fbfe"/><stop offset="0.0091" stop-color="#e0daea"/><stop offset="0.0106" stop-color="#e0daea"/><stop offset="0.0113" stop-color="#fef4f5"/><stop offset="0.0253" stop-color="#fef0f0"/><stop offset="0.0514" stop-color="#fefeff"/><stop offset="0.0823" stop-color="#f3f3f9"/><stop offset="0.1126" stop-color="#fcfcfd"/><stop offset="0.1471" stop-color="#fffdfd"/><stop offset="0.1780" stop-color="#fdeaeb"/><stop offset="0.1942" stop-color="#fef1f1"/><stop offset="0.2160" stop-color="#ffffff"/><stop offset="0.2399" stop-color="#fffdfd"/><stop offset="0.2688" stop-color="#fde6e7"/><stop offset="0.2822" stop-color="#fdeaeb"/><stop offset="0.3054" stop-color="#ffffff"/><stop offset="0.3638" stop-color="#e8e7f3"/><stop offset="0.3968" stop-color="#efeef6"/><stop offset="0.4320" stop-color="#f9f9fc"/><stop offset="0.4426" stop-color="#fffefe"/><stop offset="0.4581" stop-color="#fff9f9"/><stop offset="0.4827" stop-color="#fffcfc"/><stop offset="0.5108" stop-color="#fdeaeb"/><stop offset="0.5495" stop-color="#fbcbcd"/><stop offset="0.5706" stop-color="#fbc8ca"/><stop offset="0.6220" stop-color="#fde4e5"/><stop offset="0.6431" stop-color="#fde0e1"/><stop offset="0.6688" stop-color="#fbcbcd"/><stop offset="0.6688" stop-color="#ca1921"/><stop offset="0.6748" stop-color="#b3181e"/><stop offset="0.6825" stop-color="#86141a"/><stop offset="0.7276" stop-color="#86141a"/><stop offset="0.7360" stop-color="#b6181f"/><stop offset="0.7437" stop-color="#d31a21"/><stop offset="0.7529" stop-color="#e41b23"/><stop offset="0.7663" stop-color="#e91c24"/><stop offset="0.7867" stop-color="#df1b23"/><stop offset="0.8099" stop-color="#cf1a21"/><stop offset="0.8243" stop-color="#d21a21"/><stop offset="0.8243" stop-color="#fabfc2"/><stop offset="0.8852" stop-color="#fac2c4"/><stop offset="0.9186" stop-color="#fbd1d3"/><stop offset="0.9186" stop-color="#d71a22"/><stop offset="0.9365" stop-color="#d61a22"/><stop offset="0.9552" stop-color="#e11b23"/><stop offset="0.9552" stop-color="#fcdcdd"/><stop offset="0.9738" stop-color="#fcd9da"/><stop offset="0.9900" stop-color="#fde8e9"/><stop offset="0.9907" stop-color="#f8fbfe"/><stop offset="0.9999" stop-color="#f8fbfe"/></linearGradient><linearGradient id="h29"><stop offset="0.0000" stop-color="#f8fbfe"/><stop offset="0.0084" stop-color="#f8fbfe"/><stop offset="0.0091" stop-color="#e0daea"/><stop offset="0.0106" stop-color="#e0daea"/><stop offset="0.0113" stop-color="#fef6f6"/><stop offset="0.0260" stop-color="#fef1f2"/><stop offset="0.0528" stop-color="#fefeff"/><stop offset="0.0830" stop-color="#f5f4fa"/><stop offset="0.1147" stop-color="#fcfcfe"/><stop offset="0.1449" stop-color="#fffdfd"/><stop offset="0.1787" stop-color="#fdeaea"/><stop offset="0.1956" stop-color="#fef1f2"/><stop offset="0.2167" stop-color="#ffffff"/><stop offset="0.2392" stop-color="#fffdfd"/><stop offset="0.2688" stop-color="#fde6e7"/><stop offset="0.2829" stop-color="#fdebeb"/><stop offset="0.3068" stop-color="#ffffff"/><stop offset="0.3666" stop-color="#ecebf5"/><stop offset="0.4278" stop-color="#fafafc"/><stop offset="0.4363" stop-color="#fffefe"/><stop offset="0.4524" stop-color="#fef4f4"/><stop offset="0.4827" stop-color="#fffbfb"/><stop offset="0.5087" stop-color="#feeded"/><stop offset="0.5502" stop-color="#fbcdce"/><stop offset="0.5713" stop-color="#fbcacc"/><stop offset="0.6213" stop-color="#fde4e5"/><stop offset="0.6424" stop-color="#fde0e1"/><stop offset="0.6688" stop-color="#fbcbcd"/><stop offset="0.6688" stop-color="#cb1921"/><stop offset="0.6748" stop-color="#b4181f"/><stop offset="0.6832" stop-color="#85141a"/><stop offset="0.7269" stop-color="#85141a"/><stop offset="0.7360" stop-color="#b8181f"/><stop offset="0.7437" stop-color="#d41a22"/><stop offset="0.7529" stop-color="#e41b23"/><stop offset="0.7677" stop-color="#ea1c24"/><stop offset="0.7993" stop-color="#df1b23"/><stop offset="0.8201" stop-color="#dc1b22"/><stop offset="0.8201" stop-color="#fabfc2"/><stop offset="0.8781" stop-color="#fac2c4"/><stop offset="0.9256" stop-color="#fcd7d8"/><stop offset="0.9256" stop-color="#e21b23"/><stop offset="0.9552" stop-color="#e71c23"/><stop offset="0.9552" stop-color="#fcdedf"/><stop offset="0.9745" stop-color="#fcdcdd"/><stop offset="0.9900" stop-color="#fdeaeb"/><stop offset="0.9907" stop-color="#f8fbfe"/><stop offset="0.9999" stop-color="#f8fbfe"/></linearGradient><linearGradient id="h30"><stop offset="0.0000" stop-color="#f8fbfe"/><stop offset="0.0084" stop-color="#f8fbfe"/><stop offset="0.0091" stop-color="#e0daea"/><stop offset="0.0106" stop-color="#e0daea"/><stop offset="0.0113" stop-color="#fef7f7"/><stop offset="0.0274" stop-color="#fef3f3"/><stop offset="0.0549" stop-color="#fefeff"/><stop offset="0.0837" stop-color="#f6f6fa"/><stop offset="0.1203" stop-color="#fdfdfe"/><stop offset="0.1414" stop-color="#fffdfd"/><stop offset="0.1794" stop-color="#fdeaeb"/><stop offset="0.1977" stop-color="#fef3f4"/><stop offset="0.2174" stop-color="#ffffff"/><stop offset="0.2392" stop-color="#fffdfd"/><stop offset="0.2688" stop-color="#fde7e7"/><stop offset="0.2829" stop-color="#fdebec"/><stop offset="0.3068" stop-color="#ffffff"/><stop offset="0.3680" stop-color="#efeff7"/><stop offset="0.4257" stop-color="#fbfbfd"/><stop offset="0.4334" stop-color="#fffdfe"/><stop offset="0.4510" stop-color="#fef1f1"/><stop offset="0.4827" stop-color="#fffbfb"/><stop offset="0.5080" stop-color="#feeeef"/><stop offset="0.5502" stop-color="#fbcfd1"/><stop offset="0.5721" stop-color="#fbcecf"/><stop offset="0.6213" stop-color="#fde5e6"/><stop offset="0.6431" stop-color="#fde1e2"/><stop offset="0.6688" stop-color="#fbccce"/><stop offset="0.6688" stop-color="#cd1a21"/><stop offset="0.6755" stop-color="#b5181f"/><stop offset="0.6846" stop-color="#85141a"/><stop offset="0.7254" stop-color="#85141a"/><stop offset="0.7367" stop-color="#be181f"/><stop offset="0.7444" stop-color="#d71a22"/><stop offset="0.7543" stop-color="#e61b23"/><stop offset="0.7719" stop-color="#eb1c24"/><stop offset="0.8130" stop-color="#e31b23"/><stop offset="0.8130" stop-color="#fac3c5"/><stop offset="0.8563" stop-color="#fac0c2"/><stop offset="0.9028" stop-color="#fbced0"/><stop offset="0.9327" stop-color="#fcdcdd"/><stop offset="0.9327" stop-color="#e81c24"/><stop offset="0.9552" stop-color="#eb1c24"/><stop offset="0.9552" stop-color="#fde0e1"/><stop offset="0.9752" stop-color="#fcdfe0"/><stop offset="0.9900" stop-color="#fdebec"/><stop offset="0.9907" stop-color="#f8fbfe"/><stop offset="0.9999" stop-color="#f8fbfe"/></linearGradient><linearGradient id="h31"><stop offset="0.0000" stop-color="#f8fbfe"/><stop offset="0.0084" stop-color="#f8fbfe"/><stop offset="0.0091" stop-color="#e0daea"/><stop offset="0.0106" stop-color="#e0daea"/><stop offset="0.0113" stop-color="#fef7f7"/><stop offset="0.0281" stop-color="#fef3f4"/><stop offset="0.0584" stop-color="#fefeff"/><stop offset="0.0851" stop-color="#f8f8fb"/><stop offset="0.1351" stop-color="#fffefe"/><stop offset="0.1801" stop-color="#fdecec"/><stop offset="0.2019" stop-color="#fef7f8"/><stop offset="0.2188" stop-color="#fefeff"/><stop offset="0.2399" stop-color="#fffdfd"/><stop offset="0.2695" stop-color="#fde8e9"/><stop offset="0.2850" stop-color="#feeeef"/><stop offset="0.3075" stop-color="#ffffff"/><stop offset="0.3701" stop-color="#f2f2f8"/><stop offset="0.4250" stop-color="#fcfcfd"/><stop offset="0.4313" stop-color="#fffefe"/><stop offset="0.4503" stop-color="#feeff0"/><stop offset="0.4686" stop-color="#fef7f7"/><stop offset="0.4862" stop-color="#fffafa"/><stop offset="0.5165" stop-color="#fdeaea"/><stop offset="0.5524" stop-color="#fbd2d4"/><stop offset="0.5749" stop-color="#fbd2d4"/><stop offset="0.6213" stop-color="#fde7e8"/><stop offset="0.6431" stop-color="#fde2e3"/><stop offset="0.6688" stop-color="#fbced0"/><stop offset="0.6688" stop-color="#d01a21"/><stop offset="0.6762" stop-color="#b7181f"/><stop offset="0.6860" stop-color="#85141a"/><stop offset="0.7240" stop-color="#85141a"/><stop offset="0.7346" stop-color="#ba181f"/><stop offset="0.7430" stop-color="#d61a22"/><stop offset="0.7529" stop-color="#e61b23"/><stop offset="0.7701" stop-color="#ec1c24"/><stop offset="0.7701" stop-color="#fbced0"/><stop offset="0.7750" stop-color="#fbced0"/><stop offset="0.7750" stop-color="#ec1c24"/><stop offset="0.8039" stop-color="#e81c24"/><stop offset="0.8039" stop-color="#fbc9cb"/><stop offset="0.8514" stop-color="#fac3c5"/><stop offset="0.8971" stop-color="#fbcfd0"/><stop offset="0.9390" stop-color="#fde1e2"/><stop offset="0.9390" stop-color="#eb1c24"/><stop offset="0.9552" stop-color="#ec1c24"/><stop offset="0.9552" stop-color="#fde2e3"/><stop offset="0.9759" stop-color="#fde1e3"/><stop offset="0.9900" stop-color="#feeded"/><stop offset="0.9907" stop-color="#f8fbfe"/><stop offset="0.9999" stop-color="#f8fbfe"/></linearGradient><linearGradient id="h32"><stop offset="0.0000" stop-color="#f8fbfe"/><stop offset="0.0084" stop-color="#f8fbfe"/><stop offset="0.0091" stop-color="#e0daea"/><stop offset="0.0106" stop-color="#e0daea"/><stop offset="0.0113" stop-color="#fef8f8"/><stop offset="0.0296" stop-color="#fef4f4"/><stop offset="0.0619" stop-color="#fefeff"/><stop offset="0.0873" stop-color="#faf9fc"/><stop offset="0.1316" stop-color="#fffefe"/><stop offset="0.1794" stop-color="#feeeee"/><stop offset="0.2033" stop-color="#fffafa"/><stop offset="0.2174" stop-color="#fefeff"/><stop offset="0.2413" stop-color="#fffdfd"/><stop offset="0.2695" stop-color="#fdebec"/><stop offset="0.2857" stop-color="#fef1f1"/><stop offset="0.3075" stop-color="#ffffff"/><stop offset="0.3729" stop-color="#f5f5fa"/><stop offset="0.4250" stop-color="#fdfdfe"/><stop offset="0.4306" stop-color="#fffdfd"/><stop offset="0.4503" stop-color="#fef0f0"/><stop offset="0.4841" stop-color="#fffbfb"/><stop offset="0.5129" stop-color="#feeeef"/><stop offset="0.5524" stop-color="#fcd6d8"/><stop offset="0.5763" stop-color="#fcd7d8"/><stop offset="0.6213" stop-color="#fde9e9"/><stop offset="0.6438" stop-color="#fde3e4"/><stop offset="0.6709" stop-color="#fbced0"/><stop offset="0.6709" stop-color="#ce1a21"/><stop offset="0.6790" stop-color="#b2171e"/><stop offset="0.6889" stop-color="#85141a"/><stop offset="0.7212" stop-color="#85141a"/><stop offset="0.7346" stop-color="#c01920"/><stop offset="0.7437" stop-color="#da1b22"/><stop offset="0.7550" stop-color="#e81c24"/><stop offset="0.7589" stop-color="#ea1c24"/><stop offset="0.7589" stop-color="#fbd0d1"/><stop offset="0.7958" stop-color="#fbced0"/><stop offset="0.8493" stop-color="#fbc6c8"/><stop offset="0.8957" stop-color="#fbd1d2"/><stop offset="0.9453" stop-color="#fde4e5"/><stop offset="0.9453" stop-color="#ed1c24"/><stop offset="0.9552" stop-color="#ed1c24"/><stop offset="0.9552" stop-color="#fde4e5"/><stop offset="0.9766" stop-color="#fde4e5"/><stop offset="0.9900" stop-color="#feeeef"/><stop offset="0.9907" stop-color="#f8fbfe"/><stop offset="0.9999" stop-color="#f8fbfe"/></linearGradient><linearGradient id="h33"><stop offset="0.0000" stop-color="#f8fbfe"/><stop offset="0.0084" stop-color="#f8fbfe"/><stop offset="0.0091" stop-color="#e0daea"/><stop offset="0.0106" stop-color="#e0daea"/><stop offset="0.0113" stop-color="#fef8f8"/><stop offset="0.0310" stop-color="#fef3f4"/><stop offset="0.0654" stop-color="#fefeff"/><stop offset="0.0908" stop-color="#fbfbfd"/><stop offset="0.1288" stop-color="#fffdfd"/><stop offset="0.1597" stop-color="#fef2f2"/><stop offset="0.1865" stop-color="#fef2f2"/><stop offset="0.2125" stop-color="#fefeff"/><stop offset="0.2371" stop-color="#fefefe"/><stop offset="0.2470" stop-color="#fffbfb"/><stop offset="0.2709" stop-color="#feeeef"/><stop offset="0.2899" stop-color="#fef6f6"/><stop offset="0.3082" stop-color="#fefeff"/><stop offset="0.3771" stop-color="#f7f7fb"/><stop offset="0.4264" stop-color="#fefeff"/><stop offset="0.4524" stop-color="#fef2f2"/><stop offset="0.4841" stop-color="#fffcfc"/><stop offset="0.5158" stop-color="#feeeef"/><stop offset="0.5545" stop-color="#fcdadb"/><stop offset="0.5805" stop-color="#fcdcdd"/><stop offset="0.6213" stop-color="#fdebeb"/><stop offset="0.6452" stop-color="#fde4e5"/><stop offset="0.6709" stop-color="#fbd0d2"/><stop offset="0.6709" stop-color="#d31a21"/><stop offset="0.6797" stop-color="#b9181f"/><stop offset="0.6931" stop-color="#85141a"/><stop offset="0.7170" stop-color="#85141a"/><stop offset="0.7353" stop-color="#c91921"/><stop offset="0.7451" stop-color="#df1b23"/><stop offset="0.7546" stop-color="#e91c24"/><stop offset="0.7546" stop-color="#fbd1d3"/><stop offset="0.7902" stop-color="#fbd2d4"/><stop offset="0.8493" stop-color="#fbcacc"/><stop offset="0.8978" stop-color="#fcd5d6"/><stop offset="0.9481" stop-color="#fde6e7"/><stop offset="0.9481" stop-color="#ed1c24"/><stop offset="0.9552" stop-color="#ed1c24"/><stop offset="0.9552" stop-color="#fde6e7"/><stop offset="0.9773" stop-color="#fde7e8"/><stop offset="0.9900" stop-color="#fef0f0"/><stop offset="0.9907" stop-color="#f8fbfe"/><stop offset="0.9999" stop-color="#f8fbfe"/></linearGradient><linearGradient id="h34"><stop offset="0.0000" stop-color="#f8fbfe"/><stop offset="0.0084" stop-color="#f8fbfe"/><stop offset="0.0091" stop-color="#e0daea"/><stop offset="0.0106" stop-color="#e0daea"/><stop offset="0.0113" stop-color="#fef8f8"/><stop offset="0.0317" stop-color="#fef3f3"/><stop offset="0.0690" stop-color="#fefefe"/><stop offset="0.1006" stop-color="#fdfdfe"/><stop offset="0.1267" stop-color="#fffdfd"/><stop offset="0.1534" stop-color="#fef1f2"/><stop offset="0.1886" stop-color="#fef6f6"/><stop offset="0.2062" stop-color="#fefeff"/><stop offset="0.2315" stop-color="#faf9fc"/><stop offset="0.2491" stop-color="#fffefe"/><stop offset="0.2716" stop-color="#fef2f2"/><stop offset="0.2948" stop-color="#fffafb"/><stop offset="0.3089" stop-color="#fefefe"/><stop offset="0.3828" stop-color="#f9f9fc"/><stop offset="0.4313" stop-color="#fffefe"/><stop offset="0.4524" stop-color="#fef5f5"/><stop offset="0.4855" stop-color="#fffcfc"/><stop offset="0.5235" stop-color="#feeced"/><stop offset="0.5580" stop-color="#fcdedf"/><stop offset="0.5875" stop-color="#fde3e4"/><stop offset="0.6227" stop-color="#feeded"/><stop offset="0.6473" stop-color="#fde4e5"/><stop offset="0.6744" stop-color="#fbd0d2"/><stop offset="0.6744" stop-color="#d01a21"/><stop offset="0.6860" stop-color="#ae171e"/><stop offset="0.6973" stop-color="#8e151b"/><stop offset="0.7050" stop-color="#85141a"/><stop offset="0.7128" stop-color="#8e151b"/><stop offset="0.7247" stop-color="#b0171e"/><stop offset="0.7374" stop-color="#d51a22"/><stop offset="0.7487" stop-color="#e61b23"/><stop offset="0.7504" stop-color="#e71c23"/><stop offset="0.7504" stop-color="#fcd3d5"/><stop offset="0.7853" stop-color="#fcd6d7"/><stop offset="0.8507" stop-color="#fbced0"/><stop offset="0.9021" stop-color="#fcd9da"/><stop offset="0.9510" stop-color="#fde8e9"/><stop offset="0.9510" stop-color="#ed1c24"/><stop offset="0.9552" stop-color="#ed1c24"/><stop offset="0.9552" stop-color="#fde8e9"/><stop offset="0.9788" stop-color="#fdeaeb"/><stop offset="0.9900" stop-color="#fef1f2"/><stop offset="0.9907" stop-color="#f8fbfe"/><stop offset="0.9999" stop-color="#f8fbfe"/></linearGradient><linearGradient id="h35"><stop offset="0.0000" stop-color="#f8fbfe"/><stop offset="0.0084" stop-color="#f8fbfe"/><stop offset="0.0091" stop-color="#e0daea"/><stop offset="0.0106" stop-color="#e0daea"/><stop offset="0.0113" stop-color="#fef8f8"/><stop offset="0.0331" stop-color="#fef2f3"/><stop offset="0.0718" stop-color="#fefeff"/><stop offset="0.1182" stop-color="#fefeff"/><stop offset="0.1351" stop-color="#fef7f8"/><stop offset="0.1534" stop-color="#fef0f1"/><stop offset="0.1921" stop-color="#fffcfc"/><stop offset="0.1991" stop-color="#fefefe"/><stop offset="0.2259" stop-color="#f4f4f9"/><stop offset="0.2491" stop-color="#fbfbfd"/><stop offset="0.2568" stop-color="#fffefe"/><stop offset="0.2758" stop-color="#fef6f6"/><stop offset="0.3075" stop-color="#fefeff"/><stop offset="0.3912" stop-color="#fbfafd"/><stop offset="0.4334" stop-color="#fffefe"/><stop offset="0.4560" stop-color="#fef8f8"/><stop offset="0.4869" stop-color="#fffdfd"/><stop offset="0.5587" stop-color="#fde3e4"/><stop offset="0.5925" stop-color="#fde9e9"/><stop offset="0.6255" stop-color="#feeeef"/><stop offset="0.6523" stop-color="#fde3e4"/><stop offset="0.6765" stop-color="#fbd2d3"/><stop offset="0.6765" stop-color="#d21a21"/><stop offset="0.6980" stop-color="#a1161d"/><stop offset="0.7064" stop-color="#9b161c"/><stop offset="0.7149" stop-color="#a5161d"/><stop offset="0.7374" stop-color="#da1b22"/><stop offset="0.7441" stop-color="#e31b23"/><stop offset="0.7441" stop-color="#fcd4d6"/><stop offset="0.7796" stop-color="#fcd9db"/><stop offset="0.8521" stop-color="#fbd2d3"/><stop offset="0.9070" stop-color="#fcdedf"/><stop offset="0.9541" stop-color="#fdebeb"/><stop offset="0.9795" stop-color="#feedee"/><stop offset="0.9900" stop-color="#fef3f3"/><stop offset="0.9907" stop-color="#f8fbfe"/><stop offset="0.9999" stop-color="#f8fbfe"/></linearGradient><linearGradient id="h36"><stop offset="0.0000" stop-color="#f8fbfe"/><stop offset="0.0084" stop-color="#f8fbfe"/><stop offset="0.0091" stop-color="#e0daea"/><stop offset="0.0106" stop-color="#e0daea"/><stop offset="0.0113" stop-color="#fef8f8"/><stop offset="0.0345" stop-color="#fef3f3"/><stop offset="0.0739" stop-color="#fefeff"/><stop offset="0.1252" stop-color="#fffdfd"/><stop offset="0.1499" stop-color="#fef0f1"/><stop offset="0.1928" stop-color="#fefefe"/><stop offset="0.2238" stop-color="#efeff7"/><stop offset="0.2449" stop-color="#f4f3f9"/><stop offset="0.2646" stop-color="#fffefe"/><stop offset="0.2836" stop-color="#fffafb"/><stop offset="0.3068" stop-color="#fefefe"/><stop offset="0.4081" stop-color="#fcfcfd"/><stop offset="0.4377" stop-color="#fffdfd"/><stop offset="0.4630" stop-color="#fffcfc"/><stop offset="0.4932" stop-color="#fffcfc"/><stop offset="0.5587" stop-color="#fde7e8"/><stop offset="0.5995" stop-color="#feeeef"/><stop offset="0.6297" stop-color="#fef0f0"/><stop offset="0.6614" stop-color="#fcdfe0"/><stop offset="0.6779" stop-color="#fcd4d6"/><stop offset="0.6779" stop-color="#d61a22"/><stop offset="0.6987" stop-color="#b2171e"/><stop offset="0.7079" stop-color="#af171e"/><stop offset="0.7191" stop-color="#bd181f"/><stop offset="0.7374" stop-color="#de1b23"/><stop offset="0.7385" stop-color="#df1b23"/><stop offset="0.7385" stop-color="#fcd5d7"/><stop offset="0.7761" stop-color="#fcddde"/><stop offset="0.8549" stop-color="#fcd5d7"/><stop offset="0.9154" stop-color="#fde3e4"/><stop offset="0.9569" stop-color="#feeced"/><stop offset="0.9823" stop-color="#fef0f1"/><stop offset="0.9900" stop-color="#fef4f5"/><stop offset="0.9907" stop-color="#f8fbfe"/><stop offset="0.9999" stop-color="#f8fbfe"/></linearGradient><linearGradient id="h37"><stop offset="0.0000" stop-color="#f8fbfe"/><stop offset="0.0084" stop-color="#f8fbfe"/><stop offset="0.0091" stop-color="#e0daea"/><stop offset="0.0106" stop-color="#e0daea"/><stop offset="0.0113" stop-color="#fff9f9"/><stop offset="0.0359" stop-color="#fef4f4"/><stop offset="0.0753" stop-color="#fefeff"/><stop offset="0.1252" stop-color="#fffdfd"/><stop offset="0.1499" stop-color="#fef1f2"/><stop offset="0.1879" stop-color="#fefeff"/><stop offset="0.2245" stop-color="#ececf5"/><stop offset="0.2456" stop-color="#f1f1f8"/><stop offset="0.2709" stop-color="#fffefe"/><stop offset="0.4194" stop-color="#fdfdfe"/><stop offset="0.4482" stop-color="#fffdfd"/><stop offset="0.4954" stop-color="#fffdfd"/><stop offset="0.5608" stop-color="#fdebec"/><stop offset="0.6255" stop-color="#fef2f3"/><stop offset="0.6565" stop-color="#fde5e6"/><stop offset="0.6808" stop-color="#fcd6d8"/><stop offset="0.6808" stop-color="#d81a22"/><stop offset="0.7001" stop-color="#c01920"/><stop offset="0.7114" stop-color="#c11920"/><stop offset="0.7307" stop-color="#da1b22"/><stop offset="0.7307" stop-color="#fcd6d8"/><stop offset="0.7726" stop-color="#fde0e1"/><stop offset="0.8570" stop-color="#fcd9db"/><stop offset="0.9253" stop-color="#fde8e9"/><stop offset="0.9640" stop-color="#feeeef"/><stop offset="0.9900" stop-color="#fef6f6"/><stop offset="0.9907" stop-color="#f8fbfe"/><stop offset="0.9999" stop-color="#f8fbfe"/></linearGradient><linearGradient id="h38"><stop offset="0.0000" stop-color="#f8fbfe"/><stop offset="0.0084" stop-color="#f8fbfe"/><stop offset="0.0091" stop-color="#e0daea"/><stop offset="0.0106" stop-color="#e0daea"/><stop offset="0.0113" stop-color="#fffafa"/><stop offset="0.0380" stop-color="#fef6f6"/><stop offset="0.0760" stop-color="#fefeff"/><stop offset="0.1267" stop-color="#fffdfd"/><stop offset="0.1506" stop-color="#fef3f4"/><stop offset="0.1858" stop-color="#fefeff"/><stop offset="0.2259" stop-color="#eeedf6"/><stop offset="0.2498" stop-color="#f4f4f9"/><stop offset="0.2758" stop-color="#ffffff"/><stop offset="0.4285" stop-color="#fdfdfe"/><stop offset="0.4982" stop-color="#fffdfd"/><stop offset="0.5636" stop-color="#feeff0"/><stop offset="0.6255" stop-color="#fef4f4"/><stop offset="0.6593" stop-color="#fde6e7"/><stop offset="0.6822" stop-color="#fcdadb"/><stop offset="0.6822" stop-color="#dd1b22"/><stop offset="0.7022" stop-color="#cd1a21"/><stop offset="0.7156" stop-color="#d11a21"/><stop offset="0.7230" stop-color="#d81a22"/><stop offset="0.7230" stop-color="#fcd8d9"/><stop offset="0.7712" stop-color="#fde2e3"/><stop offset="0.8591" stop-color="#fcddde"/><stop offset="0.9619" stop-color="#fef0f1"/><stop offset="0.9900" stop-color="#fef7f7"/><stop offset="0.9907" stop-color="#f8fbfe"/><stop offset="0.9999" stop-color="#f8fbfe"/></linearGradient><linearGradient id="h39"><stop offset="0.0000" stop-color="#f8fbfe"/><stop offset="0.0084" stop-color="#f8fbfe"/><stop offset="0.0091" stop-color="#e0daea"/><stop offset="0.0106" stop-color="#e0daea"/><stop offset="0.0113" stop-color="#fffbfc"/><stop offset="0.0408" stop-color="#fef8f8"/><stop offset="0.0767" stop-color="#fefeff"/><stop offset="0.1281" stop-color="#fffdfd"/><stop offset="0.1520" stop-color="#fef6f6"/><stop offset="0.1858" stop-color="#fefeff"/><stop offset="0.2294" stop-color="#f3f3f9"/><stop offset="0.2822" stop-color="#ffffff"/><stop offset="0.4405" stop-color="#fefefe"/><stop offset="0.5038" stop-color="#fffdfd"/><stop offset="0.5671" stop-color="#fef3f3"/><stop offset="0.6262" stop-color="#fef6f6"/><stop offset="0.6649" stop-color="#fde6e6"/><stop offset="0.6864" stop-color="#fcdcdd"/><stop offset="0.6864" stop-color="#df1b23"/><stop offset="0.7057" stop-color="#d61a22"/><stop offset="0.7145" stop-color="#d91a22"/><stop offset="0.7145" stop-color="#fcdadb"/><stop offset="0.7726" stop-color="#fde5e6"/><stop offset="0.8612" stop-color="#fde0e1"/><stop offset="0.9654" stop-color="#fef2f3"/><stop offset="0.9900" stop-color="#fef8f8"/><stop offset="0.9907" stop-color="#f8fbfe"/><stop offset="0.9999" stop-color="#f8fbfe"/></linearGradient></defs><g shape-rendering="crispEdges"><rect x="105.0" y="633.20" width="710.6" height="7.57" fill="url(#h0)"/><rect x="105.0" y="640.62" width="710.6" height="7.57" fill="url(#h1)"/><rect x="105.0" y="648.04" width="710.6" height="7.57" fill="url(#h2)"/><rect x="105.0" y="655.46" width="710.6" height="7.57" fill="url(#h3)"/><rect x="105.0" y="662.88" width="710.6" height="7.57" fill="url(#h4)"/><rect x="105.0" y="670.30" width="710.6" height="7.57" fill="url(#h5)"/><rect x="105.0" y="677.72" width="710.6" height="7.57" fill="url(#h6)"/><rect x="105.0" y="685.14" width="710.6" height="7.57" fill="url(#h7)"/><rect x="105.0" y="692.56" width="710.6" height="7.57" fill="url(#h8)"/><rect x="105.0" y="699.98" width="710.6" height="7.57" fill="url(#h9)"/><rect x="105.0" y="707.40" width="710.6" height="7.57" fill="url(#h10)"/><rect x="105.0" y="714.82" width="710.6" height="7.57" fill="url(#h11)"/><rect x="105.0" y="722.24" width="710.6" height="7.57" fill="url(#h12)"/><rect x="105.0" y="729.66" width="710.6" height="7.57" fill="url(#h13)"/><rect x="105.0" y="737.08" width="710.6" height="7.57" fill="url(#h14)"/><rect x="105.0" y="744.50" width="710.6" height="7.57" fill="url(#h15)"/><rect x="105.0" y="751.92" width="710.6" height="7.57" fill="url(#h16)"/><rect x="105.0" y="759.34" width="710.6" height="7.57" fill="url(#h17)"/><rect x="105.0" y="766.76" width="710.6" height="7.57" fill="url(#h18)"/><rect x="105.0" y="774.18" width="710.6" height="7.57" fill="url(#h19)"/><rect x="105.0" y="781.60" width="710.6" height="7.57" fill="url(#h20)"/><rect x="105.0" y="789.02" width="710.6" height="7.57" fill="url(#h21)"/><rect x="105.0" y="796.44" width="710.6" height="7.57" fill="url(#h22)"/><rect x="105.0" y="803.86" width="710.6" height="7.57" fill="url(#h23)"/><rect x="105.0" y="811.28" width="710.6" height="7.57" fill="url(#h24)"/><rect x="105.0" y="818.70" width="710.6" height="7.57" fill="url(#h25)"/><rect x="105.0" y="826.12" width="710.6" height="7.57" fill="url(#h26)"/><rect x="105.0" y="833.54" width="710.6" height="7.57" fill="url(#h27)"/><rect x="105.0" y="840.96" width="710.6" height="7.57" fill="url(#h28)"/><rect x="105.0" y="848.38" width="710.6" height="7.57" fill="url(#h29)"/><rect x="105.0" y="855.80" width="710.6" height="7.57" fill="url(#h30)"/><rect x="105.0" y="863.22" width="710.6" height="7.57" fill="url(#h31)"/><rect x="105.0" y="870.64" width="710.6" height="7.57" fill="url(#h32)"/><rect x="105.0" y="878.06" width="710.6" height="7.57" fill="url(#h33)"/><rect x="105.0" y="885.48" width="710.6" height="7.57" fill="url(#h34)"/><rect x="105.0" y="892.90" width="710.6" height="7.57" fill="url(#h35)"/><rect x="105.0" y="900.32" width="710.6" height="7.57" fill="url(#h36)"/><rect x="105.0" y="907.74" width="710.6" height="7.57" fill="url(#h37)"/><rect x="105.0" y="915.16" width="710.6" height="7.57" fill="url(#h38)"/><rect x="105.0" y="922.58" width="710.6" height="7.42" fill="url(#h39)"/></g>
<path d="M184.5 633.5V930.7" stroke="#000" stroke-width="2" stroke-dasharray="4 2.2" stroke-dashoffset="0"/>
<path d="M344.3 633.5V930.7" stroke="#000" stroke-width="2" stroke-dasharray="4 2.2" stroke-dashoffset="0"/>
<path d="M392.1 633.5V930.7" stroke="#000" stroke-width="2" stroke-dasharray="4 2.2" stroke-dashoffset="0"/>
<path d="M784.8 633.5V930.7" stroke="#000" stroke-width="2" stroke-dasharray="4 2.2" stroke-dashoffset="0"/>
<path d="M99.1 637.7V925.5M87 637.7H99.1M87 667.6H99.1M87 697.3H99.1M87 726.8H99.1M87 756.2H99.1M87 785.4H99.1M87 815.4H99.1M87 845.3H99.1M87 875.0H99.1M87 904.4H99.1" fill="none" stroke="#231f20" stroke-width="2"/>
<text x="82.5" y="671.8" font-size="29.3" text-anchor="end">64</text>
<text x="82.5" y="736.9" font-size="29.3" text-anchor="end">32</text>
<text x="82.5" y="795.7" font-size="29.3" text-anchor="end">16</text>
<text x="82.5" y="855.7" font-size="29.3" text-anchor="end">8</text>
<text x="82.5" y="914.7" font-size="29.3" text-anchor="end">4</text>
<path d="M104.5 948H815.7M105.0 948V959.4M184.1 948V959.4M263.2 948V959.4M342.3 948V959.4M421.4 948V959.4M500.5 948V959.4M579.6 948V959.4M658.7 948V959.4M737.8 948V959.4" fill="none" stroke="#231f20" stroke-width="2"/>
<text x="184.4" y="993.5" font-size="29.3" text-anchor="middle">-1</text>
<text x="342.8" y="993.5" font-size="29.3" text-anchor="middle">0</text>
<text x="501.0" y="993.5" font-size="29.3" text-anchor="middle">1</text>
<text x="659.2" y="993.5" font-size="29.3" text-anchor="middle">2</text>
<text x="461.8" y="1027.9" font-size="29.4" text-anchor="middle">Time from Framing (sec)</text>
<text transform="translate(36.5 782) rotate(-90)" font-size="29.3" text-anchor="middle">Frequency (Hz)</text>
<text x="-2.2" y="557.3" font-size="42" font-weight="bold" style="fill:#231f20">b</text>
<text x="462" y="563.5" font-size="29.5" font-weight="bold" text-anchor="middle">Attention Strength Fluctuations</text>
<text x="462.5" y="596.7" font-size="29.5" font-weight="bold" text-anchor="middle">Correct - Error</text>
<text x="817" y="557" font-size="42" font-weight="bold" style="fill:#231f20">c</text>
<path d="M882.0 633.0C877.5 637.8 863.0 652.2 855.0 662.0C847.0 671.8 838.3 683.2 834.0 692.0C829.7 700.8 829.3 707.5 829.0 715.0C828.7 722.5 829.5 729.5 832.0 737.0C834.5 744.5 840.8 753.7 844.0 760.0C847.2 766.3 848.0 768.3 851.0 775.0C854.0 781.7 858.5 790.8 862.0 800.0C865.5 809.2 869.7 820.0 872.0 830.0C874.3 840.0 876.0 850.0 876.0 860.0C876.0 870.0 873.7 879.7 872.0 890.0C870.3 900.3 867.0 916.7 866.0 922.0" fill="none" stroke="#e2e2e3" stroke-width="1.3"/>
<path d="M883.0 636.0C884.5 641.7 889.2 659.3 892.0 670.0C894.8 680.7 897.7 690.3 900.0 700.0C902.3 709.7 904.0 718.0 906.0 728.0C908.0 738.0 910.0 749.7 912.0 760.0C914.0 770.3 916.5 780.0 918.0 790.0C919.5 800.0 920.7 810.0 921.0 820.0C921.3 830.0 920.8 840.0 920.0 850.0C919.2 860.0 917.3 868.0 916.0 880.0C914.7 892.0 912.7 915.0 912.0 922.0" fill="none" stroke="#e2e2e3" stroke-width="1.3"/>
<path d="M883.0 636.0C884.2 641.7 887.8 659.3 890.0 670.0C892.2 680.7 894.3 690.0 896.0 700.0C897.7 710.0 898.7 720.0 900.0 730.0C901.3 740.0 903.2 750.0 904.0 760.0C904.8 770.0 905.3 780.0 905.0 790.0C904.7 800.0 903.5 810.0 902.0 820.0C900.5 830.0 898.0 840.0 896.0 850.0C894.0 860.0 891.5 868.0 890.0 880.0C888.5 892.0 887.5 915.0 887.0 922.0" fill="none" stroke="#e2e2e3" stroke-width="1.3"/>
<path d="M882.0 633.0C881.7 640.8 881.0 665.5 880.0 680.0C879.0 694.5 878.0 706.7 876.0 720.0C874.0 733.3 871.0 746.7 868.0 760.0C865.0 773.3 860.7 786.7 858.0 800.0C855.3 813.3 853.0 826.7 852.0 840.0C851.0 853.3 851.2 866.3 852.0 880.0C852.8 893.7 856.2 915.0 857.0 922.0" fill="none" stroke="#e2e2e3" stroke-width="1.3"/>
<path d="M882.0 633.0C882.3 640.8 883.0 665.5 884.0 680.0C885.0 694.5 886.3 706.7 888.0 720.0C889.7 733.3 892.0 746.7 894.0 760.0C896.0 773.3 898.2 786.7 900.0 800.0C901.8 813.3 903.7 826.7 905.0 840.0C906.3 853.3 907.0 866.3 908.0 880.0C909.0 893.7 910.5 915.0 911.0 922.0" fill="none" stroke="#e2e2e3" stroke-width="1.3"/>
<path d="M882.0 633.0C881.3 640.8 879.7 665.5 878.0 680.0C876.3 694.5 874.0 706.7 872.0 720.0C870.0 733.3 867.3 746.7 866.0 760.0C864.7 773.3 863.7 786.7 864.0 800.0C864.3 813.3 866.0 826.7 868.0 840.0C870.0 853.3 873.3 866.3 876.0 880.0C878.7 893.7 882.7 915.0 884.0 922.0" fill="none" stroke="#e2e2e3" stroke-width="1.3"/>
<path d="M882.0 633.0C882.7 640.8 884.5 665.5 886.0 680.0C887.5 694.5 889.0 706.7 891.0 720.0C893.0 733.3 894.8 746.7 898.0 760.0C901.2 773.3 906.7 786.7 910.0 800.0C913.3 813.3 916.7 826.7 918.0 840.0C919.3 853.3 918.3 866.3 918.0 880.0C917.7 893.7 916.3 915.0 916.0 922.0" fill="none" stroke="#e2e2e3" stroke-width="1.3"/>
<path d="M882.0 633.0C881.8 640.8 881.3 665.5 881.0 680.0C880.7 694.5 879.8 706.7 880.0 720.0C880.2 733.3 880.7 746.7 882.0 760.0C883.3 773.3 885.8 786.7 888.0 800.0C890.2 813.3 893.3 826.7 895.0 840.0C896.7 853.3 897.2 866.3 898.0 880.0C898.8 893.7 899.7 915.0 900.0 922.0" fill="none" stroke="#e2e2e3" stroke-width="1.3"/>
<path d="M882.0 633.0C882.2 640.8 883.0 665.5 883.0 680.0C883.0 694.5 883.0 706.7 882.0 720.0C881.0 733.3 879.0 746.7 877.0 760.0C875.0 773.3 871.8 786.7 870.0 800.0C868.2 813.3 866.7 826.7 866.0 840.0C865.3 853.3 864.8 866.3 866.0 880.0C867.2 893.7 871.8 915.0 873.0 922.0" fill="none" stroke="#e2e2e3" stroke-width="1.3"/>
<path d="M882.0 633.0C881.5 640.8 880.3 665.5 879.0 680.0C877.7 694.5 875.2 706.7 874.0 720.0C872.8 733.3 871.7 746.7 872.0 760.0C872.3 773.3 874.0 786.7 876.0 800.0C878.0 813.3 881.5 826.7 884.0 840.0C886.5 853.3 889.3 866.3 891.0 880.0C892.7 893.7 893.5 915.0 894.0 922.0" fill="none" stroke="#e2e2e3" stroke-width="1.3"/>
<path d="M882.0 633.0C882.5 640.8 884.3 665.5 885.0 680.0C885.7 694.5 886.2 706.7 886.0 720.0C885.8 733.3 885.3 746.7 884.0 760.0C882.7 773.3 879.7 786.7 878.0 800.0C876.3 813.3 874.0 826.7 874.0 840.0C874.0 853.3 877.3 866.3 878.0 880.0C878.7 893.7 878.0 915.0 878.0 922.0" fill="none" stroke="#e2e2e3" stroke-width="1.3"/>
<path d="M882.0 633.0C881.7 640.8 881.0 665.5 880.0 680.0C879.0 694.5 877.7 706.7 876.0 720.0C874.3 733.3 872.3 746.7 870.0 760.0C867.7 773.3 864.0 786.7 862.0 800.0C860.0 813.3 858.0 826.7 858.0 840.0C858.0 853.3 860.8 866.3 862.0 880.0C863.2 893.7 864.5 915.0 865.0 922.0" fill="none" stroke="#e2e2e3" stroke-width="1.3"/>
<path d="M882.0 633.0C882.3 640.8 882.7 665.5 884.0 680.0C885.3 694.5 887.3 706.7 890.0 720.0C892.7 733.3 896.3 746.7 900.0 760.0C903.7 773.3 908.7 786.7 912.0 800.0C915.3 813.3 918.5 826.7 920.0 840.0C921.5 853.3 923.5 866.3 921.0 880.0C918.5 893.7 907.7 915.0 905.0 922.0" fill="none" stroke="#e2e2e3" stroke-width="1.3"/>
<path d="M882.0 633.0C882.2 640.8 882.5 665.5 883.0 680.0C883.5 694.5 883.8 706.7 885.0 720.0C886.2 733.3 888.5 746.7 890.0 760.0C891.5 773.3 894.0 786.7 894.0 800.0C894.0 813.3 892.0 826.7 890.0 840.0C888.0 853.3 883.3 866.3 882.0 880.0C880.7 893.7 882.0 915.0 882.0 922.0" fill="none" stroke="#e2e2e3" stroke-width="1.3"/>
<path d="M882.0 633.0C881.2 640.8 879.7 665.5 877.0 680.0C874.3 694.5 869.5 706.7 866.0 720.0C862.5 733.3 859.0 746.7 856.0 760.0C853.0 773.3 849.7 786.7 848.0 800.0C846.3 813.3 845.7 826.7 846.0 840.0C846.3 853.3 848.0 866.3 850.0 880.0C852.0 893.7 856.7 915.0 858.0 922.0" fill="none" stroke="#e2e2e3" stroke-width="1.3"/>
<path d="M882.0 633.0C882.7 640.8 884.0 665.5 886.0 680.0C888.0 694.5 890.7 706.7 894.0 720.0C897.3 733.3 902.7 746.7 906.0 760.0C909.3 773.3 912.8 786.7 914.0 800.0C915.2 813.3 914.3 826.7 913.0 840.0C911.7 853.3 910.0 866.3 906.0 880.0C902.0 893.7 891.8 915.0 889.0 922.0" fill="none" stroke="#e2e2e3" stroke-width="1.3"/>
<path d="M882.0 633.0C882.2 640.8 882.7 665.5 883.0 680.0C883.3 694.5 883.7 706.7 884.0 720.0C884.3 733.3 884.7 746.7 885.0 760.0C885.3 773.3 885.7 786.7 886.0 800.0C886.3 813.3 887.0 826.7 887.0 840.0C887.0 853.3 886.5 866.3 886.0 880.0C885.5 893.7 884.3 915.0 884.0 922.0" fill="none" stroke="#e2e2e3" stroke-width="1.3"/>
<path d="M882.0 633.0C882.3 640.8 883.5 665.5 884.0 680.0C884.5 694.5 885.2 706.7 885.0 720.0C884.8 733.3 883.5 746.7 883.0 760.0C882.5 773.3 881.8 786.7 882.0 800.0C882.2 813.3 883.0 826.7 884.0 840.0C885.0 853.3 886.8 866.3 888.0 880.0C889.2 893.7 890.5 915.0 891.0 922.0" fill="none" stroke="#e2e2e3" stroke-width="1.3"/>
<path d="M882.0 633.0C881.8 640.8 881.5 665.5 881.0 680.0C880.5 694.5 879.5 706.7 879.0 720.0C878.5 733.3 877.8 746.7 878.0 760.0C878.2 773.3 879.3 786.7 880.0 800.0C880.7 813.3 881.8 826.7 882.0 840.0C882.2 853.3 881.8 866.3 881.0 880.0C880.2 893.7 877.7 915.0 877.0 922.0" fill="none" stroke="#e2e2e3" stroke-width="1.3"/>
<path d="M881.7 640V926" stroke="#222" stroke-width="1.5" stroke-dasharray="3.4 2.6"/>
<path d="M877.9 633.5C876.5 637.4 872.2 649.1 869.5 657.1C866.8 665.1 863.4 675.1 861.7 681.8C860.1 688.5 859.6 691.6 859.6 697.3C859.6 703.0 860.1 709.2 861.7 715.9C863.4 722.6 865.6 729.8 869.5 737.5C873.4 745.2 880.0 754.0 884.9 762.2C889.8 770.5 895.4 778.8 898.8 787.0C902.1 795.2 904.3 804.0 905.0 811.7C905.7 819.4 904.7 826.2 902.9 833.4C901.1 840.6 898.0 847.5 894.2 855.0C890.4 862.5 884.2 871.0 880.3 878.2C876.4 885.4 873.1 891.1 871.0 898.3C868.9 905.5 868.4 917.6 867.9 921.5" fill="none" stroke="#231f20" stroke-width="3.9"/>
<defs><linearGradient id="cb" x1="0" y1="0" x2="0" y2="1"><stop offset="0" stop-color="#8b1a1e"/><stop offset="0.16" stop-color="#ed1c24"/><stop offset="0.3" stop-color="#f06068"/><stop offset="0.42" stop-color="#f8c0c2"/><stop offset="0.5" stop-color="#ffffff"/><stop offset="0.58" stop-color="#cfcfe6"/><stop offset="0.7" stop-color="#6f73b2"/><stop offset="0.82" stop-color="#3a4fa0"/><stop offset="1" stop-color="#262a78"/></linearGradient></defs>
<rect x="934.1" y="633.7" width="23.8" height="142.2" fill="url(#cb)" stroke="#231f20" stroke-width="1.8"/>
<text x="947" y="628" font-size="21" text-anchor="middle">1.5</text>
<text x="945.6" y="797" font-size="21" text-anchor="middle">-1.5</text>
<text transform="translate(990.9 705.7) rotate(-90)" font-size="21" text-anchor="middle">Ampl. diff. (%)</text>
<path d="M828.2 959V948H935.8V959" fill="none" stroke="#231f20" stroke-width="2"/>
<text x="827" y="992.3" font-size="29.3" text-anchor="middle">-0.4</text>
<text x="933.5" y="992.3" font-size="29.3" text-anchor="middle">0.4</text>
<text x="882.8" y="1027.9" font-size="29.3" text-anchor="middle">Ampl. diff. (%)</text>
</svg></body></html>
